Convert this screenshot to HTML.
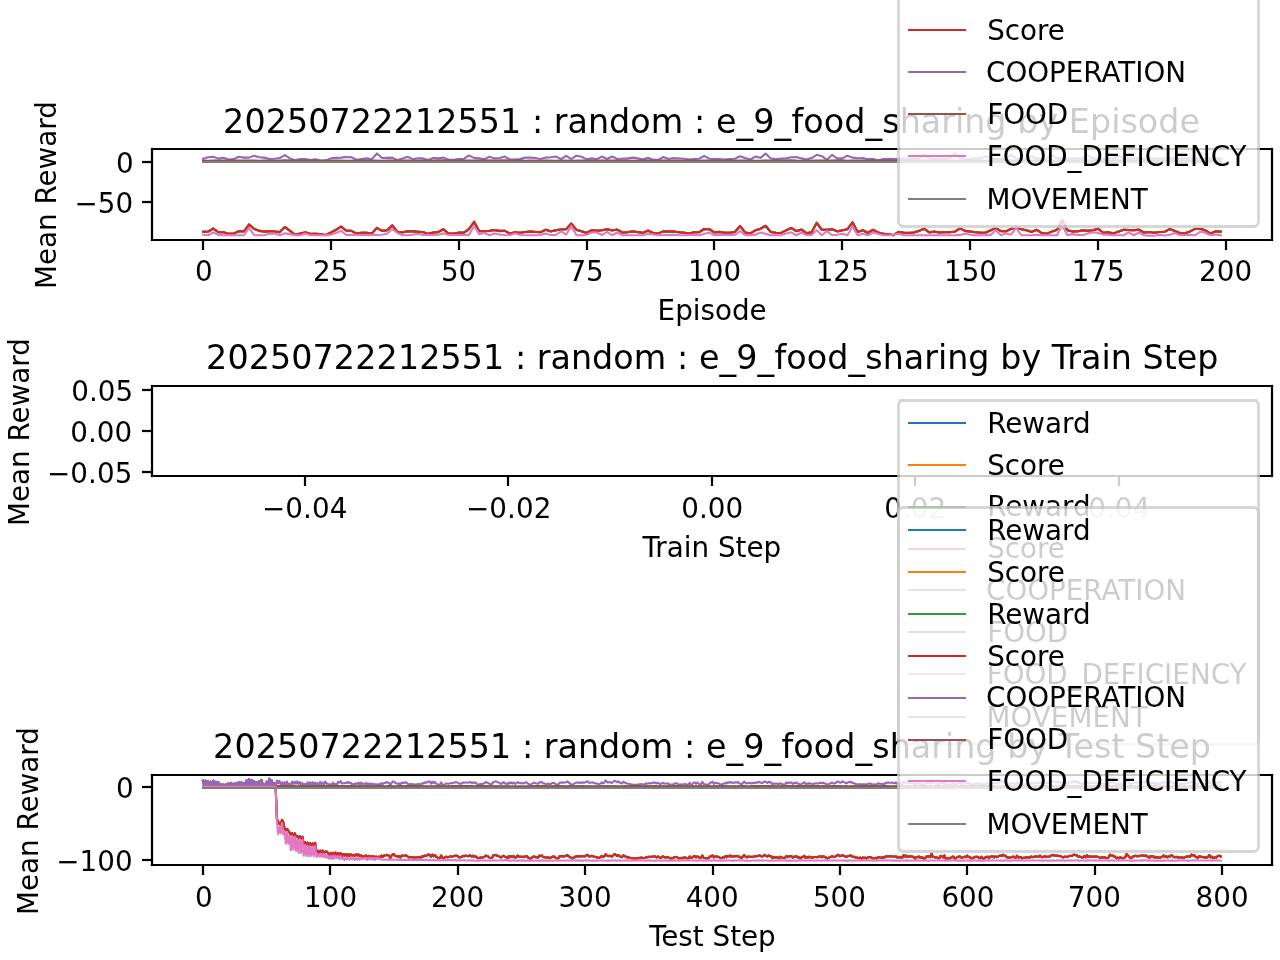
<!DOCTYPE html>
<html><head><meta charset="utf-8"><title>plot</title>
<style>html,body{margin:0;padding:0;background:#fff;width:1280px;height:960px;overflow:hidden}svg{display:block;will-change:transform}</style>
</head><body>
<svg width="1280" height="960" viewBox="0 0 1280 960" version="1.1">
<defs>
<style type="text/css">*{stroke-linejoin: round; stroke-linecap: butt}</style>
</defs>
<g id="figure_1">
<g id="patch_1">
<path d="M 0 960 L 1280 960 L 1280 0 L 0 0 z" style="fill: #ffffff"/>
</g>
<g id="axes_1">
<g id="patch_2">
<path d="M 152 240 L 1272 240 L 1272 149 L 152 149 z" style="fill: #ffffff"/>
</g>
<g id="matplotlib.axis_1">
<g id="xtick_1">
<g id="line2d_1">
<path d="M 203 240 L 203 250" style="stroke: #000000; stroke-width: 2.222222"/>
</g>
<g id="text_1">
<g transform="matrix(1 0 0 1 0.8151 0)"><text x="194.125" y="281.185" style="font-size:27.78px;font-family:'DejaVu Sans',sans-serif">0</text></g>
</g>
</g>
<g id="xtick_2">
<g id="line2d_2">
<path d="M 331 240 L 331 250" style="stroke: #000000; stroke-width: 2.222222"/>
</g>
<g id="text_2">
<text x="313.000 330.625" y="281.185" style="font-size:27.78px;font-family:'DejaVu Sans',sans-serif">25</text>
</g>
</g>
<g id="xtick_3">
<g id="line2d_3">
<path d="M 459 240 L 459 250" style="stroke: #000000; stroke-width: 2.222222"/>
</g>
<g id="text_3">
<text x="440.875 458.500" y="281.185" style="font-size:27.78px;font-family:'DejaVu Sans',sans-serif">50</text>
</g>
</g>
<g id="xtick_4">
<g id="line2d_4">
<path d="M 587 240 L 587 250" style="stroke: #000000; stroke-width: 2.222222"/>
</g>
<g id="text_4">
<g transform="matrix(1 0 0 1 -0.3377 0)"><text x="568.750 586.375" y="281.185" style="font-size:27.78px;font-family:'DejaVu Sans',sans-serif">75</text></g>
</g>
</g>
<g id="xtick_5">
<g id="line2d_5">
<path d="M 714 240 L 714 250" style="stroke: #000000; stroke-width: 2.222222"/>
</g>
<g id="text_5">
<text x="688.000 705.625 723.375" y="281.185" style="font-size:27.78px;font-family:'DejaVu Sans',sans-serif">100</text>
</g>
</g>
<g id="xtick_6">
<g id="line2d_6">
<path d="M 842 240 L 842 250" style="stroke: #000000; stroke-width: 2.222222"/>
</g>
<g id="text_6">
<g transform="matrix(1 0 0 1 -0.3484 0)"><text x="816.000 833.625 851.250" y="281.185" style="font-size:27.78px;font-family:'DejaVu Sans',sans-serif">125</text></g>
</g>
</g>
<g id="xtick_7">
<g id="line2d_7">
<path d="M 970 240 L 970 250" style="stroke: #000000; stroke-width: 2.222222"/>
</g>
<g id="text_7">
<text x="944.000 961.625 979.250" y="281.185" style="font-size:27.78px;font-family:'DejaVu Sans',sans-serif">150</text>
</g>
</g>
<g id="xtick_8">
<g id="line2d_8">
<path d="M 1098 240 L 1098 250" style="stroke: #000000; stroke-width: 2.222222"/>
</g>
<g id="text_8">
<g transform="matrix(1 0 0 1 -0.3553 0)"><text x="1072.000 1089.625 1107.250" y="281.185" style="font-size:27.78px;font-family:'DejaVu Sans',sans-serif">175</text></g>
</g>
</g>
<g id="xtick_9">
<g id="line2d_9">
<path d="M 1226 240 L 1226 250" style="stroke: #000000; stroke-width: 2.222222"/>
</g>
<g id="text_9">
<text x="1199.000 1216.625 1234.375" y="281.185" style="font-size:27.78px;font-family:'DejaVu Sans',sans-serif">200</text>
</g>
</g>
<g id="text_10">
<g transform="matrix(1 0 0 1 0.3011 0)"><text x="657.250 674.875 692.500 700.250 714.750 731.625 749.250" y="320.296" style="font-size:27.78px;font-family:'DejaVu Sans',sans-serif">Episode</text></g>
</g>
</g>
<g id="matplotlib.axis_2">
<g id="ytick_1">
<g id="line2d_10">
<path d="M 152 202 L 142 202" style="stroke: #000000; stroke-width: 2.222222"/>
</g>
<g id="text_11">
<g transform="matrix(1 0 0 1 0.5037 0)"><text x="74.000 97.250 114.875" y="212.878" style="font-size:27.78px;font-family:'DejaVu Sans',sans-serif">−50</text></g>
</g>
</g>
<g id="ytick_2">
<g id="line2d_11">
<path d="M 152 162 L 142 162" style="stroke: #000000; stroke-width: 2.222222"/>
</g>
<g id="text_12">
<g transform="matrix(1 0 0 1 0.8151 0)"><text x="115.125" y="172.769" style="font-size:27.78px;font-family:'DejaVu Sans',sans-serif">0</text></g>
</g>
</g>
<g id="text_13">
<g transform="matrix(1 0 0 1 -0.97 0.5375)"><text x="0.000 24.000 41.000 58.000 75.625 84.500 102.500 119.500 142.250 159.250 170.250" y="0" style="font-size:27.78px;font-family:'DejaVu Sans',sans-serif" transform="translate(56.959 288.435) rotate(-90)">Mean Reward</text></g>
</g>
</g>
<g id="line2d_12">
<path d="M 203.03 231.73 L 208.14 231.54 L 213.26 228.49 L 218.37 232.25 L 223.48 232.21 L 228.6 233.89 L 233.71 233.51 L 238.83 231.2 L 243.94 231.3 L 249.06 224.56 L 254.17 228.77 L 259.28 230.87 L 264.4 231.53 L 269.51 231.21 L 274.63 231.46 L 279.74 232.1 L 284.86 226.91 L 289.97 230.89 L 295.09 234.71 L 300.2 233.49 L 305.31 232.41 L 310.43 234.03 L 315.54 233.76 L 320.66 234.24 L 325.77 235.18 L 330.89 232.62 L 336 229.83 L 341.11 226.66 L 346.23 230.75 L 351.34 230.85 L 356.46 233.46 L 361.57 232.75 L 366.69 232.83 L 371.8 233.54 L 376.91 227.8 L 382.03 230.9 L 387.14 230.23 L 392.26 225.24 L 397.37 231.98 L 402.49 232.4 L 407.6 231.14 L 412.71 231.37 L 422.94 232.14 L 428.06 233.91 L 433.17 232.62 L 438.29 232.2 L 443.4 229.2 L 448.51 233.52 L 453.63 233.7 L 458.74 232.52 L 463.86 232.6 L 468.97 229.13 L 474.09 221.72 L 479.2 231.05 L 484.32 231.38 L 489.43 230.77 L 494.54 230.01 L 499.66 231.11 L 504.77 230.81 L 509.89 233.63 L 515 232.17 L 520.12 232.78 L 525.23 231.96 L 530.34 231.58 L 535.46 232.08 L 540.57 232.19 L 545.69 229.78 L 550.8 231.33 L 561.03 229.39 L 566.14 229.13 L 571.26 223.56 L 576.37 229.67 L 586.6 232.79 L 591.72 230.32 L 596.83 230.73 L 601.94 230.25 L 607.06 229.23 L 612.17 230.46 L 617.29 229.58 L 622.4 232.68 L 627.52 232.2 L 632.63 231.22 L 637.75 232.18 L 642.86 232.87 L 647.97 230.72 L 653.09 233.01 L 658.2 233.37 L 663.32 231.11 L 668.43 231.88 L 673.55 231.49 L 678.66 232.18 L 683.77 232.49 L 688.89 233.53 L 694 232.39 L 699.12 232.24 L 704.23 229 L 709.35 229.25 L 714.46 232.39 L 719.57 231.9 L 724.69 232.67 L 729.8 232.73 L 734.92 231.98 L 740.03 226.12 L 745.15 232.57 L 750.26 233.42 L 755.37 230.34 L 760.49 228.88 L 765.6 225.74 L 770.72 231.88 L 775.83 232.74 L 780.95 233.04 L 786.06 230.38 L 791.17 228.12 L 796.29 231 L 801.4 229.39 L 806.52 233.17 L 811.63 232.37 L 816.75 222.79 L 821.86 229.89 L 826.98 229.8 L 832.09 229.27 L 837.2 231.38 L 842.32 230.15 L 847.43 229.22 L 852.55 222.3 L 857.66 232.01 L 862.78 230.26 L 867.89 233.03 L 873 229.97 L 878.12 232.38 L 883.23 233.9 L 888.35 234.06 L 893.46 235.16 L 898.58 231.76 L 903.69 232.6 L 908.8 232.9 L 913.92 232.52 L 919.03 230.96 L 924.15 228.78 L 929.26 232.35 L 934.38 231.79 L 939.49 232.58 L 944.6 232.29 L 949.72 232.24 L 954.83 231.67 L 959.95 228.62 L 965.06 230.87 L 970.18 231.59 L 980.41 232.64 L 985.52 232.81 L 990.63 230.42 L 995.75 227.83 L 1000.86 231.08 L 1005.98 231.14 L 1011.09 228.69 L 1016.21 227.7 L 1021.32 229.16 L 1026.43 230.25 L 1031.55 231.87 L 1036.66 229.69 L 1041.78 233.02 L 1046.89 233.79 L 1052.01 231.62 L 1057.12 229.79 L 1062.23 220.03 L 1067.35 230.29 L 1072.46 231.47 L 1077.58 231.32 L 1082.69 230.19 L 1087.81 230.81 L 1092.92 230.27 L 1098.03 228.66 L 1103.15 232.78 L 1108.26 232.3 L 1113.38 233.45 L 1123.61 229.76 L 1133.83 230.29 L 1138.95 229.64 L 1144.06 232.61 L 1149.18 232.06 L 1154.29 232.75 L 1159.41 232.03 L 1164.52 231.91 L 1169.64 229.08 L 1174.75 231.01 L 1179.86 233.17 L 1184.98 233.19 L 1190.09 231.4 L 1195.21 228.84 L 1200.32 228.67 L 1205.44 230.54 L 1210.55 233.34 L 1215.66 231.41 L 1220.78 231.56 L 1220.78 231.56" clip-path="url(#pbbe78c1bc1)" style="fill: none; stroke: #1f77b4; stroke-width: 2.083333; stroke-linecap: square"/>
</g>
<g id="line2d_13">
<path d="M 203.03 231.73 L 208.14 231.73 L 213.26 228.67 L 218.37 232.17 L 223.48 232.17 L 228.6 233.81 L 233.71 233.59 L 238.83 231.19 L 243.94 231.41 L 249.06 224.3 L 254.17 229 L 259.28 230.86 L 264.4 231.62 L 269.51 231.19 L 274.63 231.41 L 279.74 232.17 L 284.86 227.03 L 295.09 234.69 L 300.2 233.59 L 305.31 232.28 L 310.43 233.81 L 315.54 233.81 L 320.66 234.14 L 325.77 234.91 L 330.89 232.5 L 336 229.77 L 341.11 226.48 L 346.23 230.53 L 351.34 230.86 L 356.46 233.59 L 361.57 232.72 L 366.69 232.72 L 371.8 233.59 L 376.91 227.91 L 382.03 230.86 L 387.14 230.31 L 392.26 225.39 L 397.37 231.95 L 402.49 232.28 L 407.6 231.19 L 412.71 231.41 L 417.83 231.95 L 422.94 231.95 L 428.06 233.81 L 433.17 232.5 L 438.29 231.95 L 443.4 229.22 L 448.51 233.59 L 453.63 233.59 L 458.74 232.72 L 463.86 232.72 L 468.97 229.22 L 474.09 221.78 L 479.2 231.19 L 484.32 231.19 L 489.43 230.86 L 494.54 230.09 L 499.66 230.86 L 504.77 230.86 L 509.89 233.59 L 515 232.28 L 520.12 232.72 L 525.23 231.95 L 530.34 231.62 L 540.57 232.28 L 545.69 229.77 L 550.8 231.41 L 555.92 230.31 L 561.03 229.55 L 566.14 229.22 L 571.26 223.53 L 576.37 229.77 L 586.6 233.05 L 591.72 230.09 L 596.83 230.86 L 601.94 230.31 L 607.06 229.22 L 612.17 230.31 L 617.29 229.77 L 622.4 232.5 L 627.52 232.28 L 632.63 231.41 L 637.75 231.95 L 642.86 232.83 L 647.97 230.53 L 653.09 233.05 L 658.2 233.59 L 663.32 231.41 L 668.43 231.62 L 673.55 231.41 L 678.66 232.28 L 683.77 232.72 L 688.89 233.59 L 694 232.28 L 699.12 232.28 L 704.23 229 L 709.35 229.22 L 714.46 232.28 L 719.57 231.95 L 724.69 232.72 L 729.8 232.72 L 734.92 231.95 L 740.03 225.94 L 745.15 232.5 L 750.26 233.59 L 755.37 230.31 L 760.49 228.67 L 765.6 225.94 L 770.72 231.95 L 775.83 233.05 L 780.95 233.05 L 786.06 230.31 L 791.17 227.91 L 796.29 231.19 L 801.4 229.77 L 806.52 233.05 L 811.63 232.28 L 816.75 222.87 L 821.86 229.77 L 826.98 229.77 L 832.09 229.22 L 837.2 231.41 L 847.43 229.22 L 852.55 222.44 L 857.66 231.95 L 862.78 230.31 L 867.89 232.72 L 873 229.77 L 878.12 232.5 L 883.23 233.81 L 888.35 234.14 L 893.46 235.23 L 898.58 231.95 L 903.69 232.72 L 908.8 233.05 L 913.92 232.5 L 919.03 230.86 L 924.15 228.67 L 929.26 232.28 L 934.38 231.62 L 939.49 232.5 L 944.6 232.28 L 949.72 232.28 L 954.83 231.62 L 959.95 228.34 L 965.06 230.86 L 975.29 232.28 L 980.41 232.72 L 985.52 232.72 L 990.63 230.31 L 995.75 228.12 L 1000.86 231.19 L 1005.98 231.41 L 1011.09 229 L 1016.21 227.58 L 1021.32 229.22 L 1026.43 230.31 L 1031.55 231.95 L 1036.66 229.77 L 1041.78 233.05 L 1046.89 233.81 L 1052.01 231.41 L 1057.12 229.77 L 1062.23 219.92 L 1067.35 230.31 L 1072.46 231.41 L 1077.58 231.41 L 1082.69 230.31 L 1087.81 230.86 L 1092.92 230.31 L 1098.03 228.67 L 1103.15 232.72 L 1108.26 232.28 L 1113.38 233.37 L 1123.61 229.77 L 1128.72 230.09 L 1133.83 230.09 L 1138.95 229.77 L 1144.06 232.5 L 1149.18 231.95 L 1154.29 232.72 L 1159.41 231.95 L 1164.52 231.95 L 1169.64 229 L 1174.75 230.86 L 1179.86 233.05 L 1184.98 233.37 L 1190.09 231.41 L 1195.21 228.67 L 1200.32 228.67 L 1205.44 230.31 L 1210.55 233.59 L 1215.66 231.19 L 1220.78 231.62 L 1220.78 231.62" clip-path="url(#pbbe78c1bc1)" style="fill: none; stroke: #ff7f0e; stroke-width: 2.083333; stroke-linecap: square"/>
</g>
<g id="line2d_14">
<path d="M 203.03 231.73 L 208.14 231.54 L 213.26 228.49 L 218.37 232.25 L 223.48 232.21 L 228.6 233.89 L 233.71 233.51 L 238.83 231.2 L 243.94 231.3 L 249.06 224.56 L 254.17 228.77 L 259.28 230.87 L 264.4 231.53 L 269.51 231.21 L 274.63 231.46 L 279.74 232.1 L 284.86 226.91 L 289.97 230.89 L 295.09 234.71 L 300.2 233.49 L 305.31 232.41 L 310.43 234.03 L 315.54 233.76 L 320.66 234.24 L 325.77 235.18 L 330.89 232.62 L 336 229.83 L 341.11 226.66 L 346.23 230.75 L 351.34 230.85 L 356.46 233.46 L 361.57 232.75 L 366.69 232.83 L 371.8 233.54 L 376.91 227.8 L 382.03 230.9 L 387.14 230.23 L 392.26 225.24 L 397.37 231.98 L 402.49 232.4 L 407.6 231.14 L 412.71 231.37 L 422.94 232.14 L 428.06 233.91 L 433.17 232.62 L 438.29 232.2 L 443.4 229.2 L 448.51 233.52 L 453.63 233.7 L 458.74 232.52 L 463.86 232.6 L 468.97 229.13 L 474.09 221.72 L 479.2 231.05 L 484.32 231.38 L 489.43 230.77 L 494.54 230.01 L 499.66 231.11 L 504.77 230.81 L 509.89 233.63 L 515 232.17 L 520.12 232.78 L 525.23 231.96 L 530.34 231.58 L 535.46 232.08 L 540.57 232.19 L 545.69 229.78 L 550.8 231.33 L 561.03 229.39 L 566.14 229.13 L 571.26 223.56 L 576.37 229.67 L 586.6 232.79 L 591.72 230.32 L 596.83 230.73 L 601.94 230.25 L 607.06 229.23 L 612.17 230.46 L 617.29 229.58 L 622.4 232.68 L 627.52 232.2 L 632.63 231.22 L 637.75 232.18 L 642.86 232.87 L 647.97 230.72 L 653.09 233.01 L 658.2 233.37 L 663.32 231.11 L 668.43 231.88 L 673.55 231.49 L 678.66 232.18 L 683.77 232.49 L 688.89 233.53 L 694 232.39 L 699.12 232.24 L 704.23 229 L 709.35 229.25 L 714.46 232.39 L 719.57 231.9 L 724.69 232.67 L 729.8 232.73 L 734.92 231.98 L 740.03 226.12 L 745.15 232.57 L 750.26 233.42 L 755.37 230.34 L 760.49 228.88 L 765.6 225.74 L 770.72 231.88 L 775.83 232.74 L 780.95 233.04 L 786.06 230.38 L 791.17 228.12 L 796.29 231 L 801.4 229.39 L 806.52 233.17 L 811.63 232.37 L 816.75 222.79 L 821.86 229.89 L 826.98 229.8 L 832.09 229.27 L 837.2 231.38 L 842.32 230.15 L 847.43 229.22 L 852.55 222.3 L 857.66 232.01 L 862.78 230.26 L 867.89 233.03 L 873 229.97 L 878.12 232.38 L 883.23 233.9 L 888.35 234.06 L 893.46 235.16 L 898.58 231.76 L 903.69 232.6 L 908.8 232.9 L 913.92 232.52 L 919.03 230.96 L 924.15 228.78 L 929.26 232.35 L 934.38 231.79 L 939.49 232.58 L 944.6 232.29 L 949.72 232.24 L 954.83 231.67 L 959.95 228.62 L 965.06 230.87 L 970.18 231.59 L 980.41 232.64 L 985.52 232.81 L 990.63 230.42 L 995.75 227.83 L 1000.86 231.08 L 1005.98 231.14 L 1011.09 228.69 L 1016.21 227.7 L 1021.32 229.16 L 1026.43 230.25 L 1031.55 231.87 L 1036.66 229.69 L 1041.78 233.02 L 1046.89 233.79 L 1052.01 231.62 L 1057.12 229.79 L 1062.23 220.03 L 1067.35 230.29 L 1072.46 231.47 L 1077.58 231.32 L 1082.69 230.19 L 1087.81 230.81 L 1092.92 230.27 L 1098.03 228.66 L 1103.15 232.78 L 1108.26 232.3 L 1113.38 233.45 L 1123.61 229.76 L 1133.83 230.29 L 1138.95 229.64 L 1144.06 232.61 L 1149.18 232.06 L 1154.29 232.75 L 1159.41 232.03 L 1164.52 231.91 L 1169.64 229.08 L 1174.75 231.01 L 1179.86 233.17 L 1184.98 233.19 L 1190.09 231.4 L 1195.21 228.84 L 1200.32 228.67 L 1205.44 230.54 L 1210.55 233.34 L 1215.66 231.41 L 1220.78 231.56 L 1220.78 231.56" clip-path="url(#pbbe78c1bc1)" style="fill: none; stroke: #2ca02c; stroke-width: 2.083333; stroke-linecap: square"/>
</g>
<g id="line2d_15">
<path d="M 203.03 231.73 L 208.14 231.73 L 213.26 228.67 L 218.37 232.17 L 223.48 232.17 L 228.6 233.81 L 233.71 233.59 L 238.83 231.19 L 243.94 231.41 L 249.06 224.3 L 254.17 229 L 259.28 230.86 L 264.4 231.62 L 269.51 231.19 L 274.63 231.41 L 279.74 232.17 L 284.86 227.03 L 295.09 234.69 L 300.2 233.59 L 305.31 232.28 L 310.43 233.81 L 315.54 233.81 L 320.66 234.14 L 325.77 234.91 L 330.89 232.5 L 336 229.77 L 341.11 226.48 L 346.23 230.53 L 351.34 230.86 L 356.46 233.59 L 361.57 232.72 L 366.69 232.72 L 371.8 233.59 L 376.91 227.91 L 382.03 230.86 L 387.14 230.31 L 392.26 225.39 L 397.37 231.95 L 402.49 232.28 L 407.6 231.19 L 412.71 231.41 L 417.83 231.95 L 422.94 231.95 L 428.06 233.81 L 433.17 232.5 L 438.29 231.95 L 443.4 229.22 L 448.51 233.59 L 453.63 233.59 L 458.74 232.72 L 463.86 232.72 L 468.97 229.22 L 474.09 221.78 L 479.2 231.19 L 484.32 231.19 L 489.43 230.86 L 494.54 230.09 L 499.66 230.86 L 504.77 230.86 L 509.89 233.59 L 515 232.28 L 520.12 232.72 L 525.23 231.95 L 530.34 231.62 L 540.57 232.28 L 545.69 229.77 L 550.8 231.41 L 555.92 230.31 L 561.03 229.55 L 566.14 229.22 L 571.26 223.53 L 576.37 229.77 L 586.6 233.05 L 591.72 230.09 L 596.83 230.86 L 601.94 230.31 L 607.06 229.22 L 612.17 230.31 L 617.29 229.77 L 622.4 232.5 L 627.52 232.28 L 632.63 231.41 L 637.75 231.95 L 642.86 232.83 L 647.97 230.53 L 653.09 233.05 L 658.2 233.59 L 663.32 231.41 L 668.43 231.62 L 673.55 231.41 L 678.66 232.28 L 683.77 232.72 L 688.89 233.59 L 694 232.28 L 699.12 232.28 L 704.23 229 L 709.35 229.22 L 714.46 232.28 L 719.57 231.95 L 724.69 232.72 L 729.8 232.72 L 734.92 231.95 L 740.03 225.94 L 745.15 232.5 L 750.26 233.59 L 755.37 230.31 L 760.49 228.67 L 765.6 225.94 L 770.72 231.95 L 775.83 233.05 L 780.95 233.05 L 786.06 230.31 L 791.17 227.91 L 796.29 231.19 L 801.4 229.77 L 806.52 233.05 L 811.63 232.28 L 816.75 222.87 L 821.86 229.77 L 826.98 229.77 L 832.09 229.22 L 837.2 231.41 L 847.43 229.22 L 852.55 222.44 L 857.66 231.95 L 862.78 230.31 L 867.89 232.72 L 873 229.77 L 878.12 232.5 L 883.23 233.81 L 888.35 234.14 L 893.46 235.23 L 898.58 231.95 L 903.69 232.72 L 908.8 233.05 L 913.92 232.5 L 919.03 230.86 L 924.15 228.67 L 929.26 232.28 L 934.38 231.62 L 939.49 232.5 L 944.6 232.28 L 949.72 232.28 L 954.83 231.62 L 959.95 228.34 L 965.06 230.86 L 975.29 232.28 L 980.41 232.72 L 985.52 232.72 L 990.63 230.31 L 995.75 228.12 L 1000.86 231.19 L 1005.98 231.41 L 1011.09 229 L 1016.21 227.58 L 1021.32 229.22 L 1026.43 230.31 L 1031.55 231.95 L 1036.66 229.77 L 1041.78 233.05 L 1046.89 233.81 L 1052.01 231.41 L 1057.12 229.77 L 1062.23 219.92 L 1067.35 230.31 L 1072.46 231.41 L 1077.58 231.41 L 1082.69 230.31 L 1087.81 230.86 L 1092.92 230.31 L 1098.03 228.67 L 1103.15 232.72 L 1108.26 232.28 L 1113.38 233.37 L 1123.61 229.77 L 1128.72 230.09 L 1133.83 230.09 L 1138.95 229.77 L 1144.06 232.5 L 1149.18 231.95 L 1154.29 232.72 L 1159.41 231.95 L 1164.52 231.95 L 1169.64 229 L 1174.75 230.86 L 1179.86 233.05 L 1184.98 233.37 L 1190.09 231.41 L 1195.21 228.67 L 1200.32 228.67 L 1205.44 230.31 L 1210.55 233.59 L 1215.66 231.19 L 1220.78 231.62 L 1220.78 231.62" clip-path="url(#pbbe78c1bc1)" style="fill: none; stroke: #d62728; stroke-width: 2.083333; stroke-linecap: square"/>
</g>
<g id="line2d_16">
<path d="M 203.03 158.72 L 208.14 157.3 L 213.26 156.75 L 218.37 158.61 L 223.48 157.84 L 228.6 159.48 L 233.71 159.16 L 238.83 156.75 L 243.94 157.62 L 249.06 157.62 L 254.17 155.66 L 259.28 157.3 L 264.4 157.62 L 269.51 158.94 L 274.63 158.72 L 279.74 158.06 L 284.86 155.11 L 289.97 158.39 L 295.09 160.25 L 300.2 158.94 L 305.31 158.94 L 310.43 160.03 L 315.54 159.16 L 320.66 160.58 L 325.77 160.58 L 330.89 158.39 L 336 157.84 L 341.11 157.62 L 346.23 156.97 L 351.34 157.3 L 356.46 159.81 L 361.57 158.94 L 366.69 158.39 L 371.8 159.16 L 376.91 153.47 L 382.03 158.06 L 392.26 157.62 L 397.37 160.25 L 402.49 158.39 L 407.6 156.75 L 412.71 159.16 L 417.83 158.39 L 422.94 158.39 L 428.06 160.03 L 433.17 157.84 L 438.29 158.39 L 443.4 157.62 L 448.51 159.48 L 453.63 159.81 L 458.74 158.94 L 463.86 158.94 L 468.97 155.44 L 474.09 157.84 L 479.2 158.39 L 484.32 159.16 L 489.43 156.75 L 494.54 158.39 L 499.66 158.06 L 504.77 156.53 L 509.89 159.48 L 515 159.48 L 520.12 158.94 L 525.23 157.62 L 530.34 157.62 L 535.46 158.06 L 540.57 158.94 L 545.69 157.62 L 550.8 157.3 L 555.92 156.53 L 561.03 159.16 L 566.14 155.87 L 571.26 159.16 L 576.37 155.66 L 581.49 156.75 L 586.6 159.16 L 591.72 158.39 L 596.83 159.16 L 601.94 156.53 L 607.06 158.94 L 612.17 156.53 L 617.29 158.94 L 627.52 158.39 L 632.63 157.62 L 637.75 158.39 L 642.86 159.48 L 647.97 157.84 L 653.09 159.81 L 658.2 159.81 L 663.32 156.97 L 668.43 158.94 L 673.55 158.06 L 683.77 158.72 L 688.89 159.48 L 694 158.94 L 699.12 158.72 L 704.23 155.87 L 709.35 158.72 L 714.46 158.94 L 719.57 158.94 L 724.69 159.48 L 729.8 158.94 L 734.92 158.72 L 740.03 156.2 L 745.15 158.06 L 750.26 159.48 L 755.37 156.53 L 760.49 157.84 L 765.6 153.47 L 770.72 158.39 L 775.83 159.16 L 786.06 158.39 L 791.17 157.3 L 796.29 156.97 L 801.4 158.39 L 806.52 159.48 L 811.63 158.06 L 816.75 154.78 L 821.86 156.2 L 826.98 159.81 L 832.09 154.78 L 837.2 158.39 L 842.32 158.39 L 847.43 155.66 L 852.55 157.62 L 857.66 158.39 L 862.78 158.06 L 867.89 159.16 L 873 158.94 L 878.12 160.58 L 883.23 158.94 L 888.35 158.72 L 893.46 158.94 L 903.69 158.39 L 908.8 158.94 L 919.03 158.39 L 924.15 154.56 L 929.26 158.39 L 934.38 158.72 L 939.49 158.39 L 944.6 158.94 L 949.72 158.39 L 954.83 152.92 L 959.95 157.84 L 965.06 158.72 L 970.18 158.94 L 975.29 158.39 L 980.41 158.39 L 985.52 156.2 L 990.63 158.39 L 995.75 158.94 L 1005.98 158.39 L 1011.09 154.56 L 1016.21 158.39 L 1021.32 158.72 L 1026.43 158.39 L 1031.55 156.2 L 1036.66 158.39 L 1041.78 158.72 L 1046.89 158.39 L 1052.01 155.44 L 1057.12 158.39 L 1062.23 158.39 L 1067.35 158.72 L 1072.46 158.39 L 1082.69 158.39 L 1087.81 155.44 L 1092.92 158.39 L 1098.03 158.39 L 1103.15 158.72 L 1108.26 158.39 L 1113.38 158.39 L 1118.49 155.66 L 1123.61 158.39 L 1128.72 158.72 L 1133.83 158.39 L 1138.95 158.39 L 1144.06 158.72 L 1149.18 158.39 L 1154.29 158.39 L 1159.41 158.72 L 1164.52 158.39 L 1169.64 157.84 L 1174.75 158.39 L 1179.86 158.72 L 1184.98 158.39 L 1200.32 158.39 L 1205.44 158.94 L 1210.55 158.39 L 1215.66 158.72 L 1220.78 158.39 L 1220.78 158.39" clip-path="url(#pbbe78c1bc1)" style="fill: none; stroke: #9467bd; stroke-width: 2.083333; stroke-linecap: square"/>
</g>
<g id="line2d_17">
<path d="M 203.03 160.5 L 208.14 160.74 L 213.26 160.53 L 218.37 160.45 L 228.6 160.53 L 233.71 160.45 L 238.83 160.55 L 254.17 160.49 L 259.28 160.68 L 264.4 160.47 L 274.63 160.7 L 284.86 160.36 L 295.09 160.63 L 300.2 160.48 L 305.31 160.62 L 315.54 160.56 L 320.66 160.84 L 325.77 160.54 L 330.89 160.69 L 336 160.65 L 346.23 160.75 L 351.34 160.68 L 356.46 160.47 L 361.57 160.37 L 366.69 160.57 L 371.8 160.43 L 382.03 160.8 L 387.14 160.55 L 392.26 160.51 L 397.37 160.62 L 407.6 160.5 L 417.83 160.74 L 422.94 160.59 L 433.17 160.61 L 443.4 160.36 L 448.51 160.62 L 458.74 160.45 L 479.2 160.48 L 484.32 160.32 L 494.54 160.64 L 504.77 160.41 L 515 160.63 L 520.12 160.38 L 525.23 160.72 L 530.34 160.51 L 540.57 160.71 L 545.69 160.42 L 555.92 160.71 L 561.03 160.49 L 571.26 160.8 L 581.49 160.53 L 591.72 160.55 L 607.06 160.59 L 612.17 160.42 L 617.29 160.55 L 627.52 160.5 L 632.63 160.69 L 637.75 160.65 L 642.86 160.38 L 653.09 160.6 L 658.2 160.53 L 663.32 160.62 L 668.43 160.53 L 673.55 160.65 L 678.66 160.53 L 683.77 160.76 L 688.89 160.41 L 699.12 160.76 L 704.23 160.59 L 719.57 160.7 L 724.69 160.52 L 729.8 160.13 L 734.92 160.72 L 740.03 160.53 L 745.15 160.6 L 750.26 160.54 L 755.37 160.78 L 760.49 160.7 L 765.6 160.51 L 770.72 160.57 L 775.83 160.37 L 780.95 160.65 L 786.06 160.55 L 791.17 160.22 L 796.29 160.66 L 801.4 160.67 L 816.75 160.46 L 826.98 160.66 L 832.09 160.54 L 837.2 160.25 L 842.32 160.41 L 847.43 160.9 L 852.55 160.58 L 857.66 160.67 L 862.78 160.49 L 867.89 160.59 L 873 160.33 L 878.12 160.45 L 908.8 160.5 L 913.92 160.61 L 919.03 160.41 L 929.26 160.58 L 934.38 160.66 L 944.6 160.64 L 949.72 160.9 L 954.83 160.44 L 965.06 160.59 L 970.18 160.44 L 980.41 160.52 L 985.52 160.86 L 990.63 160.59 L 1005.98 160.34 L 1011.09 160.39 L 1016.21 160.71 L 1021.32 160.83 L 1026.43 160.5 L 1031.55 160.56 L 1036.66 160.45 L 1041.78 160.58 L 1046.89 160.54 L 1052.01 160.75 L 1057.12 160.51 L 1062.23 160.62 L 1072.46 160.51 L 1077.58 160.58 L 1092.92 160.47 L 1108.26 160.64 L 1113.38 160.36 L 1118.49 160.58 L 1123.61 160.45 L 1138.95 160.66 L 1149.18 160.54 L 1154.29 160.49 L 1159.41 160.72 L 1174.75 160.37 L 1179.86 160.85 L 1184.98 160.51 L 1190.09 160.63 L 1195.21 160.51 L 1200.32 160.63 L 1210.55 160.38 L 1215.66 160.52 L 1220.78 160.51 L 1220.78 160.51" clip-path="url(#pbbe78c1bc1)" style="fill: none; stroke: #8c564b; stroke-width: 2.083333; stroke-linecap: square"/>
</g>
<g id="line2d_18">
<path d="M 203.03 234.69 L 208.14 235.23 L 213.26 232.5 L 218.37 234.91 L 223.48 235.23 L 243.94 235.23 L 249.06 227.91 L 254.17 235.23 L 264.4 235.23 L 269.51 233.59 L 274.63 233.59 L 279.74 235.23 L 284.86 233.37 L 289.97 234.14 L 295.09 235.23 L 300.2 235.23 L 305.31 233.59 L 310.43 235.23 L 325.77 235.23 L 330.89 234.69 L 336 233.05 L 341.11 230.86 L 346.23 235.02 L 376.91 235.02 L 382.03 234.69 L 387.14 233.81 L 392.26 229 L 397.37 233.05 L 402.49 235.23 L 407.6 235.23 L 412.71 234.69 L 417.83 233.81 L 422.94 235.02 L 433.17 235.02 L 438.29 234.69 L 443.4 233.37 L 448.51 235.02 L 468.97 235.02 L 474.09 225.94 L 479.2 234.14 L 484.32 233.05 L 489.43 235.23 L 494.54 233.59 L 499.66 234.47 L 504.77 235.02 L 509.89 235.23 L 515 233.37 L 520.12 235.02 L 525.23 235.23 L 535.46 235.23 L 540.57 235.02 L 545.69 233.59 L 550.8 235.02 L 555.92 235.02 L 561.03 231.41 L 566.14 234.69 L 571.26 225.94 L 576.37 235.23 L 581.49 235.23 L 586.6 234.69 L 591.72 232.5 L 596.83 232.5 L 601.94 235.02 L 607.06 231.95 L 612.17 235.23 L 617.29 232.5 L 622.4 235.23 L 642.86 235.23 L 647.97 233.81 L 658.2 235.23 L 673.55 234.69 L 678.66 235.23 L 683.77 235.23 L 694 234.69 L 699.12 235.23 L 709.35 232.5 L 714.46 235.23 L 719.57 234.69 L 724.69 235.02 L 734.92 235.02 L 740.03 231.19 L 745.15 234.91 L 750.26 235.23 L 755.37 234.69 L 760.49 232.5 L 770.72 235.23 L 780.95 235.23 L 786.06 233.59 L 791.17 232.28 L 796.29 235.23 L 801.4 232.72 L 806.52 235.02 L 811.63 235.02 L 816.75 230.31 L 821.86 235.23 L 826.98 231.19 L 832.09 235.23 L 837.2 234.69 L 842.32 233.81 L 847.43 235.23 L 852.55 226.48 L 857.66 235.23 L 862.78 233.81 L 867.89 235.23 L 873 232.5 L 883.23 235.23 L 888.35 235.23 L 893.46 234.69 L 898.58 233.81 L 903.69 235.23 L 954.83 235.23 L 959.95 234.91 L 965.06 233.59 L 970.18 234.69 L 975.29 235.23 L 985.52 235.23 L 990.63 234.91 L 995.75 230.31 L 1000.86 235.23 L 1005.98 233.59 L 1011.09 234.69 L 1016.21 227.91 L 1021.32 235.23 L 1031.55 235.23 L 1036.66 234.69 L 1041.78 235.23 L 1057.12 235.23 L 1062.23 225.39 L 1067.35 235.23 L 1072.46 234.14 L 1077.58 234.91 L 1082.69 235.23 L 1087.81 233.37 L 1092.92 232.28 L 1098.03 233.05 L 1103.15 234.47 L 1113.38 235.23 L 1123.61 235.23 L 1128.72 232.28 L 1133.83 235.23 L 1138.95 232.5 L 1144.06 235.23 L 1149.18 235.78 L 1154.29 235.78 L 1159.41 234.69 L 1164.52 235.56 L 1169.64 234.69 L 1174.75 233.05 L 1179.86 235.23 L 1184.98 235.23 L 1190.09 234.69 L 1195.21 235.23 L 1200.32 231.62 L 1205.44 233.05 L 1210.55 235.23 L 1215.66 234.47 L 1220.78 235.23 L 1220.78 235.23" clip-path="url(#pbbe78c1bc1)" style="fill: none; stroke: #e377c2; stroke-width: 2.083333; stroke-linecap: square"/>
</g>
<g id="line2d_19">
<path d="M 203 162 L 1221 162 L 1221 162" clip-path="url(#pbbe78c1bc1)" style="fill: none; stroke: #7f7f7f; stroke-width: 2.083333; stroke-linecap: square"/>
</g>
<g id="patch_3">
<path d="M 152 240 L 152 149" style="fill: none; stroke: #000000; stroke-width: 2.222222; stroke-linejoin: miter; stroke-linecap: square"/>
</g>
<g id="patch_4">
<path d="M 1272 240 L 1272 149" style="fill: none; stroke: #000000; stroke-width: 2.222222; stroke-linejoin: miter; stroke-linecap: square"/>
</g>
<g id="patch_5">
<path d="M 152 240 L 1272 240" style="fill: none; stroke: #000000; stroke-width: 2.222222; stroke-linejoin: miter; stroke-linecap: square"/>
</g>
<g id="patch_6">
<path d="M 152 149 L 1272 149" style="fill: none; stroke: #000000; stroke-width: 2.222222; stroke-linejoin: miter; stroke-linecap: square"/>
</g>
<g id="text_14">
<text x="223.000 244.375 265.625 287.000 308.250 329.500 350.750 372.125 393.500 414.875 436.125 457.500 478.750 500.000 521.250 531.875 543.125 553.750 567.500 587.875 609.000 630.250 650.750 683.375 694.000 705.250 715.875 736.375 753.250 774.500 791.375 803.125 823.625 844.125 865.375 882.250 899.625 920.750 941.125 954.875 964.125 985.250 1006.500 1017.125 1038.375 1058.125 1068.750 1089.875 1111.125 1120.375 1137.750 1158.250 1179.500" y="132.589" style="font-size:33.33px;font-family:'DejaVu Sans',sans-serif">20250722212551 : random : e_9_food_sharing by Episode</text>
</g>
<g id="legend_1">
<g id="patch_7">
<path d="M 903.5 226.5 L 1252.5 226.5 L 1254.5 226.5 L 1256.5 225.5 L 1257.5 224.5 L 1258.5 222.5 L 1258.5 220.5 L 1258.5 -112.5 L 1258.5 -113.5 L 1257.5 -115.5 L 1256.5 -117.5 L 1254.5 -118.5 L 1252.5 -118.5 L 903.5 -118.5 L 902.5 -118.5 L 900.5 -117.5 L 899.5 -115.5 L 898.5 -113.5 L 898.5 -112.5 L 898.5 220.5 L 898.5 222.5 L 899.5 224.5 L 900.5 225.5 L 902.5 226.5 L 903.5 226.5 z" style="fill: #ffffff; opacity: 0.8; stroke: #cccccc; stroke-width: 2.777778; stroke-linejoin: miter"/>
</g>
<g id="line2d_20">
<path style="fill: none; stroke: #1f77b4; stroke-width: 2.083333; stroke-linecap: square"/>
</g>
<g id="text_15">
<text x="987.250 1005.250 1022.250 1045.000 1062.000 1073.000" y="-85.482" style="font-size:27.78px;font-family:'DejaVu Sans',sans-serif">Reward</text>
</g>
<g id="line2d_21">
<path style="fill: none; stroke: #ff7f0e; stroke-width: 2.083333; stroke-linecap: square"/>
</g>
<g id="text_16">
<text x="987.125 1004.750 1020.000 1036.875 1047.750" y="-43.593" style="font-size:27.78px;font-family:'DejaVu Sans',sans-serif">Score</text>
</g>
<g id="line2d_22">
<path style="fill: none; stroke: #2ca02c; stroke-width: 2.083333; stroke-linecap: square"/>
</g>
<g id="text_17">
<text x="987.250 1005.250 1022.250 1045.000 1062.000 1073.000" y="-1.704" style="font-size:27.78px;font-family:'DejaVu Sans',sans-serif">Reward</text>
</g>
<g id="line2d_23">
<path d="M 909 30 L 937 30 L 965 30" style="fill: none; stroke: #d62728; stroke-width: 2.083333; stroke-linecap: square"/>
</g>
<g id="text_18">
<text x="987.125 1004.750 1020.000 1036.875 1047.750" y="40.185" style="font-size:27.78px;font-family:'DejaVu Sans',sans-serif">Score</text>
</g>
<g id="line2d_24">
<path d="M 909 72 L 937 72 L 965 72" style="fill: none; stroke: #9467bd; stroke-width: 2.083333; stroke-linecap: square"/>
</g>
<g id="text_19">
<g transform="matrix(1 0 0 1 -0.4102 0)"><text x="986.500 1005.875 1027.625 1049.375 1066.125 1083.750 1101.875 1118.750 1135.625 1143.875 1165.625" y="82.073" style="font-size:27.78px;font-family:'DejaVu Sans',sans-serif">COOPERATION</text></g>
</g>
<g id="line2d_25">
<path d="M 909 114 L 937 114 L 965 114" style="fill: none; stroke: #8c564b; stroke-width: 2.083333; stroke-linecap: square"/>
</g>
<g id="text_20">
<text x="987.250 1003.250 1025.000 1046.750" y="123.962" style="font-size:27.78px;font-family:'DejaVu Sans',sans-serif">FOOD</text>
</g>
<g id="line2d_26">
<path d="M 909 156 L 937 156 L 965 156" style="fill: none; stroke: #e377c2; stroke-width: 2.083333; stroke-linecap: square"/>
</g>
<g id="text_21">
<g transform="matrix(1 0 0 1 -0.5126 0)"><text x="987.250 1003.250 1025.000 1046.750 1068.125 1082.000 1103.375 1121.000 1137.000 1145.250 1164.625 1172.875 1190.500 1211.250 1230.125" y="165.851" style="font-size:27.78px;font-family:'DejaVu Sans',sans-serif">FOOD_DEFICIENCY</text></g>
</g>
<g id="line2d_27">
<path d="M 909 199 L 937 199 L 965 199" style="fill: none; stroke: #7f7f7f; stroke-width: 2.083333; stroke-linecap: square"/>
</g>
<g id="text_22">
<g transform="matrix(1 0 0 1 -0.6258 0)"><text x="987.250 1011.250 1032.500 1051.500 1069.125 1093.125 1110.750 1131.500" y="208.740" style="font-size:27.78px;font-family:'DejaVu Sans',sans-serif">MOVEMENT</text></g>
</g>
</g>
</g>
<g id="axes_2">
<g id="patch_8">
<path d="M 152 476 L 1272 476 L 1272 386 L 152 386 z" style="fill: #ffffff"/>
</g>
<g id="matplotlib.axis_3">
<g id="xtick_10">
<g id="line2d_28">
<path d="M 305 476 L 305 486" style="stroke: #000000; stroke-width: 2.222222"/>
</g>
<g id="text_23">
<text x="262.000 285.250 303.000 311.875 329.625" y="517.559" style="font-size:27.78px;font-family:'DejaVu Sans',sans-serif">−0.04</text>
</g>
</g>
<g id="xtick_11">
<g id="line2d_29">
<path d="M 508 476 L 508 486" style="stroke: #000000; stroke-width: 2.222222"/>
</g>
<g id="text_24">
<text x="466.000 489.250 507.000 515.875 533.625" y="517.559" style="font-size:27.78px;font-family:'DejaVu Sans',sans-serif">−0.02</text>
</g>
</g>
<g id="xtick_12">
<g id="line2d_30">
<path d="M 712 476 L 712 486" style="stroke: #000000; stroke-width: 2.222222"/>
</g>
<g id="text_25">
<text x="681.125 698.875 707.750 725.500" y="517.559" style="font-size:27.78px;font-family:'DejaVu Sans',sans-serif">0.00</text>
</g>
</g>
<g id="xtick_13">
<g id="line2d_31">
<path d="M 915 476 L 915 486" style="stroke: #000000; stroke-width: 2.222222"/>
</g>
<g id="text_26">
<text x="884.125 901.875 910.750 928.500" y="517.559" style="font-size:27.78px;font-family:'DejaVu Sans',sans-serif">0.02</text>
</g>
</g>
<g id="xtick_14">
<g id="line2d_32">
<path d="M 1119 476 L 1119 486" style="stroke: #000000; stroke-width: 2.222222"/>
</g>
<g id="text_27">
<text x="1088.125 1105.875 1114.750 1132.500" y="517.559" style="font-size:27.78px;font-family:'DejaVu Sans',sans-serif">0.04</text>
</g>
</g>
<g id="text_28">
<g transform="matrix(1 0 0 1 0.2991 0)"><text x="642.125 654.875 666.375 683.375 691.125 708.750 717.625 735.250 746.125 763.125" y="556.670" style="font-size:27.78px;font-family:'DejaVu Sans',sans-serif">Train Step</text></g>
</g>
</g>
<g id="matplotlib.axis_4">
<g id="ytick_3">
<g id="line2d_33">
<path d="M 152 472 L 142 472" style="stroke: #000000; stroke-width: 2.222222"/>
</g>
<g id="text_29">
<text x="47.000 70.250 88.000 96.875 114.625" y="483.002" style="font-size:27.78px;font-family:'DejaVu Sans',sans-serif">−0.05</text>
</g>
</g>
<g id="ytick_4">
<g id="line2d_34">
<path d="M 152 431 L 142 431" style="stroke: #000000; stroke-width: 2.222222"/>
</g>
<g id="text_30">
<text x="70.125 87.875 96.750 114.500" y="441.873" style="font-size:27.78px;font-family:'DejaVu Sans',sans-serif">0.00</text>
</g>
</g>
<g id="ytick_5">
<g id="line2d_35">
<path d="M 152 390 L 142 390" style="stroke: #000000; stroke-width: 2.222222"/>
</g>
<g id="text_31">
<text x="71.125 88.875 97.750 115.500" y="400.743" style="font-size:27.78px;font-family:'DejaVu Sans',sans-serif">0.05</text>
</g>
</g>
<g id="text_32">
<g transform="matrix(1 0 0 1 -1.344 1.157)"><text x="0.000 24.000 41.000 58.000 75.625 84.500 102.500 119.500 142.250 159.250 170.250" y="0" style="font-size:27.78px;font-family:'DejaVu Sans',sans-serif" transform="translate(30.334 524.810) rotate(-90)">Mean Reward</text></g>
</g>
</g>
<g id="line2d_36"/>
<g id="line2d_37"/>
<g id="line2d_38"/>
<g id="line2d_39"/>
<g id="line2d_40"/>
<g id="line2d_41"/>
<g id="line2d_42"/>
<g id="line2d_43"/>
<g id="patch_9">
<path d="M 152 476 L 152 386" style="fill: none; stroke: #000000; stroke-width: 2.222222; stroke-linejoin: miter; stroke-linecap: square"/>
</g>
<g id="patch_10">
<path d="M 1272 476 L 1272 386" style="fill: none; stroke: #000000; stroke-width: 2.222222; stroke-linejoin: miter; stroke-linecap: square"/>
</g>
<g id="patch_11">
<path d="M 152 476 L 1272 476" style="fill: none; stroke: #000000; stroke-width: 2.222222; stroke-linejoin: miter; stroke-linecap: square"/>
</g>
<g id="patch_12">
<path d="M 152 386 L 1272 386" style="fill: none; stroke: #000000; stroke-width: 2.222222; stroke-linejoin: miter; stroke-linecap: square"/>
</g>
<g id="text_33">
<text x="206.000 227.375 248.625 270.000 291.250 312.500 333.750 355.125 376.500 397.875 419.125 440.500 461.750 483.000 504.250 514.875 526.125 536.750 550.500 570.875 592.000 613.250 633.750 666.375 677.000 688.250 698.875 719.375 736.250 757.500 774.375 786.125 806.625 827.125 848.375 865.250 882.625 903.750 924.125 937.875 947.125 968.250 989.500 1000.125 1021.375 1041.125 1051.750 1067.250 1081.000 1101.375 1110.625 1131.750 1142.375 1163.625 1176.625 1197.125" y="368.964" style="font-size:33.33px;font-family:'DejaVu Sans',sans-serif">20250722212551 : random : e_9_food_sharing by Train Step</text>
</g>
<g id="legend_2">
<g id="patch_13">
<path d="M 903.5 744.5 L 1252.5 744.5 L 1254.5 744.5 L 1256.5 743.5 L 1257.5 742.5 L 1258.5 740.5 L 1258.5 738.5 L 1258.5 405.5 L 1258.5 404.5 L 1257.5 402.5 L 1256.5 400.5 L 1254.5 400.5 L 1252.5 400.5 L 903.5 400.5 L 902.5 400.5 L 900.5 400.5 L 899.5 402.5 L 898.5 404.5 L 898.5 405.5 L 898.5 738.5 L 898.5 740.5 L 899.5 742.5 L 900.5 743.5 L 902.5 744.5 L 903.5 744.5 z" style="fill: #ffffff; opacity: 0.8; stroke: #cccccc; stroke-width: 2.777778; stroke-linejoin: miter"/>
</g>
<g id="line2d_44">
<path d="M 909 423 L 937 423 L 965 423" style="fill: none; stroke: #1f77b4; stroke-width: 2.083333; stroke-linecap: square"/>
</g>
<g id="text_34">
<text x="987.250 1005.250 1022.250 1045.000 1062.000 1073.000" y="432.630" style="font-size:27.78px;font-family:'DejaVu Sans',sans-serif">Reward</text>
</g>
<g id="line2d_45">
<path d="M 909 465 L 937 465 L 965 465" style="fill: none; stroke: #ff7f0e; stroke-width: 2.083333; stroke-linecap: square"/>
</g>
<g id="text_35">
<text x="987.125 1004.750 1020.000 1036.875 1047.750" y="474.519" style="font-size:27.78px;font-family:'DejaVu Sans',sans-serif">Score</text>
</g>
<g id="line2d_46">
<path d="M 909 507 L 937 507 L 965 507" style="fill: none; stroke: #2ca02c; stroke-width: 2.083333; stroke-linecap: square"/>
</g>
<g id="text_36">
<text x="987.250 1005.250 1022.250 1045.000 1062.000 1073.000" y="516.408" style="font-size:27.78px;font-family:'DejaVu Sans',sans-serif">Reward</text>
</g>
<g id="line2d_47">
<path d="M 909 549 L 937 549 L 965 549" style="fill: none; stroke: #d62728; stroke-width: 2.083333; stroke-linecap: square"/>
</g>
<g id="text_37">
<text x="987.125 1004.750 1020.000 1036.875 1047.750" y="558.297" style="font-size:27.78px;font-family:'DejaVu Sans',sans-serif">Score</text>
</g>
<g id="line2d_48">
<path d="M 909 590 L 937 590 L 965 590" style="fill: none; stroke: #9467bd; stroke-width: 2.083333; stroke-linecap: square"/>
</g>
<g id="text_38">
<g transform="matrix(1 0 0 1 -0.4102 0)"><text x="986.500 1005.875 1027.625 1049.375 1066.125 1083.750 1101.875 1118.750 1135.625 1143.875 1165.625" y="600.186" style="font-size:27.78px;font-family:'DejaVu Sans',sans-serif">COOPERATION</text></g>
</g>
<g id="line2d_49">
<path d="M 909 632 L 937 632 L 965 632" style="fill: none; stroke: #8c564b; stroke-width: 2.083333; stroke-linecap: square"/>
</g>
<g id="text_39">
<text x="987.250 1003.250 1025.000 1046.750" y="642.075" style="font-size:27.78px;font-family:'DejaVu Sans',sans-serif">FOOD</text>
</g>
<g id="line2d_50">
<path d="M 909 674 L 937 674 L 965 674" style="fill: none; stroke: #e377c2; stroke-width: 2.083333; stroke-linecap: square"/>
</g>
<g id="text_40">
<g transform="matrix(1 0 0 1 -0.5126 0)"><text x="987.250 1003.250 1025.000 1046.750 1068.125 1082.000 1103.375 1121.000 1137.000 1145.250 1164.625 1172.875 1190.500 1211.250 1230.125" y="683.964" style="font-size:27.78px;font-family:'DejaVu Sans',sans-serif">FOOD_DEFICIENCY</text></g>
</g>
<g id="line2d_51">
<path d="M 909 717 L 937 717 L 965 717" style="fill: none; stroke: #7f7f7f; stroke-width: 2.083333; stroke-linecap: square"/>
</g>
<g id="text_41">
<g transform="matrix(1 0 0 1 -0.6258 0)"><text x="987.250 1011.250 1032.500 1051.500 1069.125 1093.125 1110.750 1131.500" y="726.853" style="font-size:27.78px;font-family:'DejaVu Sans',sans-serif">MOVEMENT</text></g>
</g>
</g>
</g>
<g id="axes_3">
<g id="patch_14">
<path d="M 152 865 L 1272 865 L 1272 775 L 152 775 z" style="fill: #ffffff"/>
</g>
<g id="matplotlib.axis_5">
<g id="xtick_15">
<g id="line2d_52">
<path d="M 203 865 L 203 875" style="stroke: #000000; stroke-width: 2.222222"/>
</g>
<g id="text_42">
<g transform="matrix(1 0 0 1 0.8151 0)"><text x="194.125" y="906.555" style="font-size:27.78px;font-family:'DejaVu Sans',sans-serif">0</text></g>
</g>
</g>
<g id="xtick_16">
<g id="line2d_53">
<path d="M 330 865 L 330 875" style="stroke: #000000; stroke-width: 2.222222"/>
</g>
<g id="text_43">
<text x="304.000 321.625 339.375" y="906.555" style="font-size:27.78px;font-family:'DejaVu Sans',sans-serif">100</text>
</g>
</g>
<g id="xtick_17">
<g id="line2d_54">
<path d="M 458 865 L 458 875" style="stroke: #000000; stroke-width: 2.222222"/>
</g>
<g id="text_44">
<text x="431.000 448.625 466.375" y="906.555" style="font-size:27.78px;font-family:'DejaVu Sans',sans-serif">200</text>
</g>
</g>
<g id="xtick_18">
<g id="line2d_55">
<path d="M 585 865 L 585 875" style="stroke: #000000; stroke-width: 2.222222"/>
</g>
<g id="text_45">
<g transform="matrix(1 0 0 1 -0.3463 0)"><text x="558.875 576.625 594.375" y="906.555" style="font-size:27.78px;font-family:'DejaVu Sans',sans-serif">300</text></g>
</g>
</g>
<g id="xtick_19">
<g id="line2d_56">
<path d="M 713 865 L 713 875" style="stroke: #000000; stroke-width: 2.222222"/>
</g>
<g id="text_46">
<text x="685.625 703.250 721.000" y="906.555" style="font-size:27.78px;font-family:'DejaVu Sans',sans-serif">400</text>
</g>
</g>
<g id="xtick_20">
<g id="line2d_57">
<path d="M 840 865 L 840 875" style="stroke: #000000; stroke-width: 2.222222"/>
</g>
<g id="text_47">
<text x="812.875 830.500 848.250" y="906.555" style="font-size:27.78px;font-family:'DejaVu Sans',sans-serif">500</text>
</g>
</g>
<g id="xtick_21">
<g id="line2d_58">
<path d="M 967 865 L 967 875" style="stroke: #000000; stroke-width: 2.222222"/>
</g>
<g id="text_48">
<g transform="matrix(1 0 0 1 0.2965 0)"><text x="941.125 958.750 976.500" y="906.555" style="font-size:27.78px;font-family:'DejaVu Sans',sans-serif">600</text></g>
</g>
</g>
<g id="xtick_22">
<g id="line2d_59">
<path d="M 1095 865 L 1095 875" style="stroke: #000000; stroke-width: 2.222222"/>
</g>
<g id="text_49">
<text x="1067.750 1085.375 1103.125" y="906.555" style="font-size:27.78px;font-family:'DejaVu Sans',sans-serif">700</text>
</g>
</g>
<g id="xtick_23">
<g id="line2d_60">
<path d="M 1222 865 L 1222 875" style="stroke: #000000; stroke-width: 2.222222"/>
</g>
<g id="text_50">
<g transform="matrix(1 0 0 1 0.3882 0)"><text x="1195.125 1212.750 1230.500" y="906.555" style="font-size:27.78px;font-family:'DejaVu Sans',sans-serif">800</text></g>
</g>
</g>
<g id="text_51">
<text x="649.125 661.250 678.250 692.750 703.625 712.500 730.125 741.000 758.000" y="945.666" style="font-size:27.78px;font-family:'DejaVu Sans',sans-serif">Test Step</text>
</g>
</g>
<g id="matplotlib.axis_6">
<g id="ytick_6">
<g id="line2d_61">
<path d="M 152 860 L 142 860" style="stroke: #000000; stroke-width: 2.222222"/>
</g>
<g id="text_52">
<g transform="matrix(1 0 0 1 0.3149 0)"><text x="56.000 79.250 96.875 114.625" y="870.788" style="font-size:27.78px;font-family:'DejaVu Sans',sans-serif">−100</text></g>
</g>
</g>
<g id="ytick_7">
<g id="line2d_62">
<path d="M 152 787 L 142 787" style="stroke: #000000; stroke-width: 2.222222"/>
</g>
<g id="text_53">
<g transform="matrix(1 0 0 1 0.8151 0)"><text x="115.125" y="797.875" style="font-size:27.78px;font-family:'DejaVu Sans',sans-serif">0</text></g>
</g>
</g>
<g id="text_54">
<g transform="matrix(1 0 0 1 -1.219 1.176)"><text x="0.000 24.000 41.000 58.000 75.625 84.500 102.500 119.500 142.250 159.250 170.250" y="0" style="font-size:27.78px;font-family:'DejaVu Sans',sans-serif" transform="translate(39.209 913.806) rotate(-90)">Mean Reward</text></g>
</g>
</g>
<g id="line2d_63">
<path d="M 203.03 780.88 L 204.3 786.13 L 205.57 780.69 L 206.85 786.2 L 208.12 781.15 L 209.4 786.09 L 210.67 781.8 L 211.94 786.04 L 213.22 780.78 L 214.49 785.83 L 215.76 781.97 L 217.04 786.27 L 218.31 782.35 L 219.59 786.15 L 220.86 784.4 L 222.13 786.2 L 223.41 784.48 L 224.68 786.19 L 225.96 784.44 L 227.23 786.51 L 228.5 783.57 L 229.78 786.22 L 231.05 783.19 L 232.32 786.43 L 233.6 783.75 L 234.87 786.24 L 236.15 783.33 L 237.42 786.21 L 238.69 782.21 L 239.97 786.02 L 241.24 782.24 L 242.51 786.52 L 243.79 783.23 L 245.06 786.47 L 246.34 780.74 L 247.61 786.09 L 248.88 779.24 L 250.16 786.19 L 251.43 780.09 L 252.7 786.06 L 253.98 781.48 L 255.25 786.09 L 256.53 781.96 L 257.8 786.15 L 259.07 781.52 L 260.35 786.07 L 261.62 779.91 L 262.89 785.95 L 264.17 784.74 L 265.44 786.01 L 266.72 782 L 267.99 786.4 L 269.26 778.8 L 270.54 786.12 L 271.81 780.61 L 273.09 785.99 L 274.36 783.25 L 275.63 786.3 L 276.91 818.83 L 278.18 821.82 L 279.45 824.18 L 280.73 824.52 L 282 819.86 L 283.28 822.15 L 284.55 828.65 L 285.82 830.06 L 287.1 828.9 L 288.37 830.93 L 289.64 832.69 L 290.92 834.79 L 292.19 833.23 L 293.47 836.05 L 294.74 833.27 L 296.01 836.46 L 297.29 835.93 L 298.56 838.59 L 299.83 836.08 L 301.11 839.06 L 302.38 836.89 L 303.66 844.29 L 304.93 842.15 L 306.2 844.37 L 307.48 842.6 L 308.75 845.46 L 310.02 843.3 L 311.3 845.27 L 312.57 843.3 L 313.85 845.77 L 315.12 842.77 L 316.39 853.01 L 317.67 850.67 L 318.94 853.18 L 320.22 850.54 L 321.49 852.35 L 322.76 850.68 L 324.04 853.39 L 325.31 851.46 L 326.58 851.57 L 327.86 852.84 L 329.13 854.86 L 330.41 853.02 L 331.68 856.05 L 332.95 852.75 L 334.23 854.54 L 335.5 852.71 L 336.77 855.31 L 338.05 853.15 L 339.32 855.21 L 340.6 853.2 L 341.87 856.08 L 343.14 854.08 L 344.42 855.74 L 345.69 853.94 L 346.96 855.97 L 348.24 853.99 L 349.51 855.99 L 350.79 854.32 L 352.06 855.65 L 353.33 855.06 L 354.61 855.94 L 355.88 854.36 L 357.15 855.37 L 358.43 854.23 L 359.7 856.09 L 360.98 855.44 L 362.25 857.31 L 363.52 855.79 L 364.8 857.36 L 366.07 855.32 L 367.34 856.9 L 368.62 855.83 L 369.89 857.18 L 371.17 856.11 L 372.44 857.07 L 373.71 856.06 L 374.99 857.11 L 376.26 856.6 L 377.54 857.4 L 378.81 856.61 L 380.08 857.38 L 381.36 855.57 L 382.63 856.98 L 383.9 855.42 L 385.18 855.7 L 386.45 854.91 L 387.73 855.05 L 389 855.73 L 390.27 858.06 L 391.55 855.69 L 392.82 854.05 L 394.09 854.54 L 395.37 856.01 L 396.64 856.16 L 397.92 857 L 399.19 856.15 L 400.46 857.51 L 401.74 855.57 L 403.01 855.76 L 404.28 855.8 L 405.56 855.42 L 406.83 855.7 L 408.11 856.86 L 409.38 857.57 L 410.65 857.11 L 411.93 856.99 L 413.2 857.63 L 414.47 857.43 L 415.75 857.56 L 417.02 857.14 L 418.3 857.05 L 419.57 857.1 L 420.84 857.73 L 422.12 856.04 L 423.39 856.6 L 424.67 855.6 L 425.94 856.02 L 427.21 855.34 L 428.49 854.43 L 429.76 854.75 L 431.03 857.02 L 432.31 854.67 L 433.58 856.19 L 434.86 855.06 L 436.13 856.71 L 437.4 857.63 L 438.68 858.39 L 439.95 857.74 L 441.22 855.38 L 442.5 858.04 L 443.77 858.29 L 445.05 857.22 L 446.32 856.66 L 447.59 857.33 L 448.87 856.9 L 450.14 856.34 L 452.69 856.69 L 453.96 855.99 L 455.24 855.64 L 456.51 855.72 L 457.78 856.21 L 459.06 857.41 L 460.33 856.92 L 461.6 857.04 L 462.88 855.9 L 464.15 856.28 L 465.43 855.61 L 467.97 856.23 L 469.25 855.46 L 470.52 855.57 L 471.79 856.64 L 473.07 855.65 L 474.34 856.78 L 475.62 856.34 L 476.89 857.52 L 478.16 858.03 L 479.44 858.15 L 480.71 857.44 L 481.99 857.78 L 483.26 857.16 L 484.53 856.69 L 485.81 855.6 L 487.08 855.97 L 488.35 856.54 L 489.63 857.79 L 490.9 857.99 L 492.18 857.79 L 493.45 855.12 L 494.72 855.25 L 496 854.86 L 497.27 855.81 L 498.54 855.94 L 499.82 856.81 L 501.09 857.42 L 502.37 856.39 L 503.64 855.75 L 504.91 856.67 L 506.19 857.14 L 507.46 858.46 L 508.73 855.96 L 510.01 857.3 L 511.28 856.09 L 512.56 856.65 L 513.83 855.95 L 515.1 857.75 L 516.38 857.26 L 517.65 855.37 L 518.92 856.82 L 520.2 856.7 L 521.47 856.93 L 522.75 856.67 L 524.02 857.03 L 525.29 856.36 L 526.57 856.07 L 527.84 857.43 L 529.12 857.9 L 530.39 858.86 L 531.66 857.83 L 532.94 856.98 L 534.21 856.33 L 535.48 857.21 L 536.76 857.27 L 538.03 857.72 L 539.31 855.66 L 540.58 855.97 L 541.85 855.42 L 543.13 857.1 L 545.67 857.31 L 546.95 857.86 L 548.22 857.33 L 549.5 858.09 L 552.04 856.94 L 553.32 856.41 L 554.59 856.63 L 555.86 858.11 L 557.14 858.41 L 558.41 858.24 L 559.69 855.95 L 560.96 856.24 L 562.23 856.13 L 563.51 856.44 L 564.78 856.12 L 567.33 855.09 L 568.6 856.29 L 569.88 856.92 L 571.15 857.74 L 572.42 858.38 L 573.7 857.79 L 574.97 856.73 L 577.52 856.14 L 580.07 856.45 L 581.34 856.21 L 582.61 856.16 L 585.16 856.45 L 586.44 855.11 L 587.71 855.04 L 588.98 856.52 L 590.26 856.12 L 591.53 855.83 L 592.8 855.97 L 594.08 856.8 L 595.35 856.93 L 597.9 857.75 L 599.17 857.67 L 600.45 857.26 L 601.72 855.8 L 602.99 856.93 L 604.27 856.6 L 605.54 854.23 L 608.09 856.15 L 609.36 855.69 L 611.91 856.52 L 614.46 854.19 L 615.73 854.68 L 617.01 856.01 L 618.28 855.07 L 619.55 856.14 L 620.83 856.81 L 622.1 857.3 L 623.37 855.34 L 624.65 856.33 L 625.92 856.43 L 627.2 857.38 L 628.47 857.01 L 629.74 857.78 L 631.02 858.03 L 632.29 858.1 L 634.84 858.61 L 636.11 858.39 L 637.39 858.4 L 638.66 857.92 L 639.93 858.06 L 641.21 857.55 L 642.48 857.97 L 643.76 857.92 L 645.03 858.05 L 646.3 856.79 L 647.58 857.2 L 648.85 856.75 L 650.12 856.99 L 651.4 856.69 L 652.67 856.99 L 653.95 856.01 L 655.22 856.59 L 656.49 857.51 L 657.77 856.46 L 659.04 857.16 L 660.31 858.14 L 661.59 857.47 L 662.86 856.22 L 664.14 856.97 L 665.41 857.58 L 666.68 857.12 L 667.96 857.03 L 669.23 857.85 L 670.5 858.38 L 671.78 858.13 L 673.05 858.16 L 674.33 857.05 L 676.87 857 L 678.15 858.1 L 679.42 858.12 L 680.7 857.91 L 681.97 857.89 L 683.24 858.16 L 684.52 857.21 L 685.79 857.83 L 688.34 858.5 L 689.61 856.43 L 690.89 857.86 L 692.16 857.7 L 693.43 856.46 L 694.71 856 L 695.98 857.34 L 697.25 856.44 L 698.53 857.22 L 699.8 857.76 L 701.08 857.61 L 702.35 855.34 L 703.62 857.9 L 704.9 857.92 L 706.17 858.59 L 707.44 858.12 L 708.72 858.15 L 709.99 856.64 L 711.27 856.45 L 712.54 855.4 L 713.81 857.47 L 715.09 856.19 L 717.63 856.57 L 718.91 856.99 L 720.18 857.91 L 721.46 858.19 L 722.73 857.47 L 724 857.71 L 725.28 856 L 726.55 857.34 L 727.83 856.05 L 729.1 856.52 L 730.37 855.41 L 731.65 856.93 L 732.92 856.12 L 734.19 856.81 L 735.47 855.93 L 736.74 856.3 L 738.02 856 L 739.29 857.27 L 740.56 857.24 L 741.84 858.07 L 743.11 855.92 L 744.38 855.08 L 745.66 856.79 L 746.93 857.45 L 748.21 856.63 L 749.48 856.66 L 750.75 857.05 L 752.03 856.76 L 753.3 856.93 L 754.57 856.46 L 755.85 856.11 L 757.12 856.31 L 758.4 855.64 L 759.67 855.44 L 760.94 856.21 L 762.22 856.47 L 763.49 855.78 L 764.76 854.75 L 766.04 855.94 L 767.31 856.48 L 768.59 855.33 L 769.86 856.16 L 771.13 856.08 L 772.41 858.26 L 773.68 857.18 L 776.23 857.52 L 777.5 857.43 L 778.78 858.3 L 780.05 856.79 L 781.32 857.46 L 782.6 857.99 L 785.15 857.77 L 786.42 855.91 L 787.69 857.13 L 788.97 856.39 L 790.24 856.03 L 791.51 856.11 L 792.79 857.66 L 794.06 856.59 L 795.34 856.68 L 796.61 856.18 L 797.88 857.79 L 799.16 857.39 L 800.43 858.34 L 801.7 857.44 L 802.98 856.91 L 804.25 855.75 L 805.53 857.95 L 806.8 856.85 L 808.07 857.65 L 809.35 856.73 L 810.62 857.52 L 811.89 857.59 L 814.44 857.05 L 815.72 857.01 L 816.99 857.22 L 818.26 856.83 L 819.54 856.27 L 820.81 856.53 L 822.08 857.22 L 823.36 856.1 L 824.63 856.93 L 825.91 857.4 L 827.18 858.35 L 828.45 858.08 L 829.73 857.12 L 832.28 856.1 L 833.55 857.02 L 834.82 856.98 L 836.1 856.12 L 837.37 854.89 L 838.64 855.12 L 839.92 856.13 L 841.19 855.79 L 842.47 855.06 L 846.29 857.17 L 847.56 856.26 L 848.83 856.08 L 850.11 855.52 L 851.38 855.66 L 852.66 856.94 L 853.93 856.7 L 855.2 857.42 L 856.48 857.61 L 857.75 857.65 L 859.02 858.21 L 860.3 857.57 L 861.57 858.68 L 862.85 857.55 L 864.12 857.81 L 865.39 857.7 L 866.67 858.4 L 867.94 857.39 L 869.21 857.06 L 870.49 857.07 L 871.76 857.83 L 873.04 858.36 L 874.31 858.3 L 875.58 858.01 L 876.86 858.41 L 878.13 857.17 L 879.41 857.33 L 880.68 857.9 L 881.95 857.46 L 883.23 857.4 L 884.5 857.47 L 885.77 856.16 L 887.05 856.58 L 888.32 856.06 L 889.6 856.61 L 890.87 856.18 L 892.14 856.09 L 893.42 856.86 L 894.69 856.77 L 895.96 856.11 L 897.24 857.56 L 898.51 856.9 L 899.79 857.71 L 901.06 857.25 L 902.33 857.82 L 903.61 855.3 L 904.88 856.65 L 906.15 855.45 L 907.43 857.19 L 908.7 856.39 L 909.98 856.83 L 911.25 856.32 L 912.52 856.57 L 913.8 857.2 L 915.07 858.43 L 916.34 857.24 L 917.62 857.12 L 918.89 856.56 L 920.17 857.83 L 921.44 857.13 L 922.71 857.47 L 923.99 858.8 L 925.26 858.22 L 926.53 856.42 L 927.81 856.73 L 929.08 856.13 L 930.36 857.21 L 931.63 853.53 L 932.9 856.89 L 934.18 857.03 L 935.45 857.51 L 936.73 857.5 L 939.27 858.35 L 940.55 856.02 L 941.82 856.33 L 943.09 857.42 L 944.37 855.42 L 945.64 858.56 L 946.92 858.07 L 948.19 858.43 L 950.74 858.04 L 952.01 857.4 L 953.28 856.47 L 954.56 858.22 L 955.83 858.38 L 957.11 857.11 L 958.38 856.65 L 959.65 856.34 L 960.93 857.21 L 962.2 857.69 L 963.47 857.44 L 964.75 856.56 L 966.02 857.17 L 967.3 855.54 L 968.57 856.59 L 969.84 857.13 L 971.12 858.23 L 972.39 857.9 L 973.66 857.83 L 974.94 856.91 L 977.49 856.71 L 978.76 857.85 L 980.03 858.2 L 981.31 856.77 L 982.58 858.31 L 983.86 858.86 L 985.13 857.33 L 986.4 857.17 L 987.68 856.5 L 988.95 858.33 L 990.22 856.62 L 991.5 856.52 L 992.77 856.29 L 994.05 857.46 L 995.32 856.2 L 996.59 857.17 L 997.87 856.62 L 999.14 855.87 L 1000.41 855.42 L 1001.69 855.89 L 1002.96 854.9 L 1004.24 855.81 L 1005.51 855.64 L 1006.78 857.43 L 1008.06 857.32 L 1009.33 858.02 L 1010.6 857.5 L 1011.88 857.28 L 1013.15 856.59 L 1014.43 857.44 L 1015.7 857.68 L 1016.97 855.81 L 1018.25 857.45 L 1019.52 857 L 1020.79 857.12 L 1022.07 858.31 L 1023.34 857.82 L 1024.62 857.79 L 1025.89 856.95 L 1027.16 857.43 L 1028.44 857.58 L 1029.71 857.6 L 1030.99 856.41 L 1032.26 857.24 L 1033.53 856.68 L 1034.81 856.7 L 1036.08 856.1 L 1037.35 856.89 L 1038.63 856.86 L 1039.9 855.56 L 1041.18 856.88 L 1042.45 857.39 L 1043.72 856.53 L 1045 856.47 L 1046.27 856.83 L 1047.54 856.91 L 1048.82 856.69 L 1050.09 856.25 L 1051.37 855.19 L 1052.64 854.88 L 1053.91 855.25 L 1055.19 855.75 L 1056.46 855.53 L 1057.73 855.98 L 1059.01 856.14 L 1060.28 855.8 L 1061.56 856.75 L 1062.83 857.34 L 1064.1 856.89 L 1067.92 856.86 L 1069.2 855.81 L 1070.47 855.79 L 1071.75 856.06 L 1073.02 855.17 L 1074.29 854.67 L 1075.57 855.32 L 1076.84 855.21 L 1078.11 856.85 L 1079.39 856.48 L 1081.94 857.54 L 1083.21 857.45 L 1084.48 855.84 L 1085.76 857.35 L 1087.03 855.08 L 1088.31 856.95 L 1089.58 855.97 L 1090.85 857.02 L 1092.13 856.76 L 1094.67 856.58 L 1097.22 856.64 L 1098.5 857.08 L 1099.77 857.78 L 1101.04 857.75 L 1102.32 857.21 L 1103.59 857.57 L 1104.86 857.12 L 1106.14 858.12 L 1107.41 858.04 L 1108.69 857.3 L 1109.96 854.77 L 1111.23 855.75 L 1112.51 855.34 L 1113.78 856.76 L 1115.05 856.51 L 1116.33 858.22 L 1117.6 857.57 L 1118.88 858.54 L 1120.15 857.09 L 1121.42 857.95 L 1122.7 858.32 L 1123.97 857.66 L 1125.24 857.22 L 1126.52 854.24 L 1129.07 856.64 L 1130.34 857.96 L 1131.61 857.86 L 1132.89 856.55 L 1135.44 855.77 L 1136.71 856.21 L 1137.98 855.83 L 1139.26 856.21 L 1140.53 855.71 L 1141.8 855.54 L 1143.08 855.53 L 1144.35 855.93 L 1145.63 855.35 L 1146.9 856.6 L 1148.17 856.61 L 1149.45 857.71 L 1150.72 855.98 L 1151.99 856.43 L 1153.27 856.08 L 1154.54 857.6 L 1155.82 856.88 L 1157.09 857.7 L 1158.36 857.12 L 1159.64 857.82 L 1160.91 857.2 L 1162.18 856.83 L 1163.46 855.42 L 1164.73 856.95 L 1166.01 856.39 L 1167.28 857.18 L 1168.55 856.48 L 1169.83 856.74 L 1171.1 855.41 L 1172.37 855.85 L 1173.65 857.01 L 1174.92 857.35 L 1176.2 856.68 L 1177.47 857.51 L 1178.74 857.6 L 1180.02 857.16 L 1181.29 857.21 L 1182.56 857.72 L 1183.84 857.9 L 1185.11 856.95 L 1186.39 856.51 L 1187.66 856.61 L 1188.93 856.34 L 1190.21 856.81 L 1191.48 854.6 L 1192.76 855.44 L 1194.03 854.93 L 1195.3 856.7 L 1197.85 857.87 L 1199.12 856.15 L 1200.4 856.64 L 1201.67 856.79 L 1202.95 857.25 L 1204.22 857.05 L 1205.49 857.61 L 1206.77 857.57 L 1208.04 857.01 L 1209.31 854.83 L 1210.59 857.22 L 1211.86 856.61 L 1213.14 858.16 L 1214.41 857.41 L 1215.68 857.96 L 1216.96 856.72 L 1218.23 855.92 L 1219.5 855.6 L 1220.78 856.46 L 1220.78 856.46" clip-path="url(#p567b58b1b1)" style="fill: none; stroke: #1f77b4; stroke-width: 2.083333; stroke-linecap: square"/>
</g>
<g id="line2d_64">
<path d="M 203.03 780.68 L 204.3 786.08 L 205.57 780.7 L 206.85 786.23 L 208.12 781.33 L 209.4 786.14 L 210.67 781.99 L 211.94 786 L 213.22 780.64 L 214.49 785.95 L 215.76 781.82 L 217.04 786.07 L 218.31 782.29 L 219.59 786.2 L 220.86 784.55 L 222.13 786.21 L 223.41 784.61 L 224.68 786.19 L 225.96 784.23 L 227.23 786.37 L 228.5 783.36 L 229.78 786.2 L 231.05 782.93 L 232.32 786.25 L 233.6 783.64 L 234.87 786.36 L 236.15 783.41 L 237.42 786.16 L 238.69 782.24 L 239.97 785.99 L 241.24 782.59 L 242.51 786.31 L 243.79 782.97 L 245.06 786.22 L 246.34 780.56 L 247.61 786.04 L 248.88 779.36 L 250.16 786.16 L 251.43 780.06 L 252.7 786.04 L 253.98 781.5 L 255.25 785.97 L 256.53 782.04 L 257.8 786.14 L 259.07 781.55 L 260.35 786.14 L 261.62 779.98 L 262.89 786.05 L 264.17 784.63 L 265.44 786.06 L 266.72 781.79 L 267.99 786.13 L 269.26 778.75 L 270.54 786.17 L 271.81 780.66 L 273.09 786.03 L 274.36 783.36 L 275.63 786.07 L 276.91 818.75 L 278.18 821.78 L 279.45 824.07 L 280.73 824.56 L 282 819.92 L 283.28 822.18 L 284.55 828.65 L 285.82 830.35 L 287.1 828.91 L 290.92 835.02 L 292.19 833.11 L 293.47 835.91 L 294.74 833.44 L 296.01 836.6 L 297.29 836.03 L 298.56 838.56 L 299.83 836.16 L 301.11 838.88 L 302.38 836.73 L 303.66 844.48 L 304.93 841.98 L 306.2 844.35 L 307.48 842.68 L 308.75 845.5 L 310.02 843.16 L 311.3 845.19 L 312.57 843.37 L 313.85 845.71 L 315.12 842.97 L 316.39 852.99 L 317.67 850.9 L 318.94 853.17 L 320.22 850.7 L 321.49 852.4 L 322.76 850.68 L 324.04 853.21 L 325.31 851.52 L 326.58 851.57 L 327.86 852.88 L 329.13 854.78 L 330.41 852.89 L 331.68 855.92 L 332.95 852.73 L 334.23 854.65 L 335.5 852.65 L 336.77 855.16 L 338.05 853.04 L 339.32 855.05 L 340.6 852.98 L 341.87 856.02 L 343.14 853.98 L 344.42 855.68 L 345.69 854.17 L 346.96 856.08 L 348.24 854.16 L 349.51 855.99 L 350.79 854.34 L 352.06 855.54 L 353.33 854.82 L 354.61 855.72 L 355.88 854.31 L 357.15 855.42 L 358.43 854.51 L 359.7 856.07 L 360.98 855.24 L 362.25 857.26 L 363.52 855.85 L 364.8 857.2 L 366.07 855.25 L 367.34 856.95 L 368.62 855.84 L 369.89 857.23 L 371.17 856.11 L 372.44 857.06 L 373.71 856.23 L 374.99 857.22 L 376.26 856.62 L 377.54 857.46 L 378.81 856.59 L 380.08 857.36 L 381.36 855.62 L 382.63 857 L 383.9 855.74 L 385.18 855.73 L 386.45 854.96 L 389 855.61 L 390.27 858.07 L 391.55 855.85 L 392.82 854.08 L 394.09 854.54 L 395.37 855.91 L 396.64 856.16 L 397.92 856.91 L 399.19 856.29 L 400.46 857.59 L 401.74 855.54 L 403.01 855.91 L 404.28 855.67 L 405.56 855.31 L 406.83 855.8 L 408.11 856.9 L 409.38 857.43 L 410.65 857.01 L 411.93 856.97 L 413.2 857.55 L 414.47 857.46 L 415.75 857.55 L 417.02 857.21 L 418.3 857.04 L 419.57 857.14 L 420.84 857.68 L 422.12 856.09 L 423.39 856.65 L 424.67 855.69 L 425.94 856.07 L 428.49 854.43 L 429.76 854.92 L 431.03 856.99 L 432.31 854.68 L 433.58 856.39 L 434.86 855.14 L 436.13 856.8 L 438.68 858.27 L 439.95 857.77 L 441.22 855.65 L 442.5 857.82 L 443.77 858.08 L 445.05 857.29 L 446.32 856.69 L 447.59 857.2 L 448.87 857.02 L 450.14 856.37 L 452.69 856.68 L 453.96 855.92 L 455.24 855.68 L 456.51 855.63 L 457.78 856.06 L 459.06 857.32 L 460.33 856.97 L 461.6 857.18 L 462.88 855.81 L 464.15 856.15 L 465.43 855.64 L 466.7 856.03 L 467.97 856.18 L 469.25 855.65 L 470.52 855.47 L 471.79 856.82 L 473.07 855.73 L 474.34 856.57 L 475.62 856.41 L 476.89 857.49 L 478.16 858.01 L 479.44 858.06 L 480.71 857.44 L 481.99 857.69 L 483.26 857.18 L 484.53 856.82 L 485.81 855.77 L 487.08 856.1 L 488.35 856.65 L 489.63 857.85 L 490.9 857.97 L 492.18 857.65 L 493.45 855.25 L 494.72 855.19 L 496 854.89 L 497.27 855.63 L 498.54 855.99 L 499.82 856.99 L 501.09 857.41 L 502.37 856.5 L 503.64 855.73 L 504.91 856.69 L 506.19 857.08 L 507.46 858.12 L 508.73 856.01 L 510.01 857.36 L 511.28 856.16 L 512.56 856.86 L 513.83 856.06 L 515.1 857.81 L 516.38 857.18 L 517.65 855.74 L 518.92 856.65 L 520.2 856.65 L 521.47 856.87 L 522.75 856.81 L 524.02 857.07 L 526.57 855.85 L 527.84 857.36 L 530.39 858.8 L 531.66 857.67 L 534.21 856.25 L 535.48 857.21 L 536.76 857.31 L 538.03 857.6 L 539.31 855.66 L 540.58 856.14 L 541.85 855.39 L 543.13 857.08 L 544.4 857.15 L 545.67 857.36 L 546.95 857.93 L 548.22 857.22 L 549.5 858.11 L 550.77 857.69 L 552.04 856.73 L 553.32 856.54 L 554.59 856.74 L 555.86 857.92 L 557.14 858.2 L 558.41 858.17 L 559.69 856.13 L 562.23 856.13 L 563.51 856.46 L 564.78 856.11 L 566.05 855.9 L 567.33 855.13 L 568.6 856.14 L 571.15 857.83 L 572.42 858.25 L 573.7 857.81 L 574.97 856.65 L 576.25 856.24 L 577.52 856.02 L 578.79 856.42 L 580.07 856.43 L 581.34 856 L 582.61 856.25 L 583.89 856.22 L 585.16 856.07 L 586.44 854.97 L 587.71 854.74 L 588.98 856.44 L 590.26 856.47 L 591.53 856.09 L 592.8 856 L 594.08 856.69 L 595.35 856.78 L 597.9 857.78 L 599.17 857.83 L 600.45 857.27 L 601.72 855.96 L 602.99 856.92 L 604.27 856.33 L 605.54 854.27 L 606.82 855.32 L 608.09 856.23 L 609.36 855.83 L 610.64 855.97 L 611.91 856.49 L 614.46 854.24 L 615.73 854.75 L 617.01 856.13 L 618.28 855.02 L 619.55 856 L 620.83 856.76 L 622.1 857.28 L 623.37 855.28 L 624.65 856.21 L 625.92 856.55 L 627.2 857.51 L 628.47 857.14 L 629.74 857.88 L 631.02 858.1 L 632.29 858.05 L 634.84 858.65 L 636.11 858.16 L 637.39 858.43 L 638.66 857.66 L 639.93 858.29 L 641.21 857.64 L 642.48 857.89 L 645.03 857.98 L 646.3 856.99 L 647.58 857.35 L 648.85 856.76 L 650.12 856.93 L 651.4 856.77 L 652.67 857.03 L 653.95 856.01 L 655.22 856.53 L 656.49 857.32 L 657.77 856.28 L 660.31 857.93 L 661.59 857.35 L 662.86 856.45 L 664.14 856.98 L 665.41 857.67 L 666.68 857.05 L 667.96 857.2 L 670.5 858.49 L 671.78 858.27 L 673.05 858.22 L 674.33 857.31 L 675.6 856.87 L 676.87 856.96 L 678.15 858.17 L 680.7 857.98 L 681.97 858.17 L 683.24 858.13 L 684.52 857.25 L 685.79 857.77 L 687.06 858.1 L 688.34 858.26 L 689.61 856.49 L 690.89 858.04 L 692.16 857.71 L 693.43 856.62 L 694.71 855.84 L 695.98 857.32 L 697.25 856.42 L 698.53 857.32 L 699.8 857.77 L 701.08 857.68 L 702.35 855.54 L 703.62 857.76 L 704.9 857.91 L 706.17 858.64 L 707.44 858.04 L 708.72 858.2 L 709.99 856.41 L 711.27 856.32 L 712.54 855.36 L 713.81 857.24 L 715.09 856.47 L 717.63 856.74 L 718.91 857.1 L 720.18 858.03 L 721.46 858.16 L 722.73 857.44 L 724 857.44 L 725.28 856.12 L 726.55 857.32 L 727.83 855.79 L 729.1 856.42 L 730.37 855.48 L 731.65 856.72 L 732.92 856.06 L 734.19 856.53 L 735.47 855.87 L 736.74 856.29 L 738.02 855.69 L 739.29 857.17 L 740.56 857.29 L 741.84 858.02 L 743.11 856.11 L 744.38 855.19 L 745.66 856.94 L 746.93 857.29 L 748.21 856.5 L 749.48 856.7 L 750.75 857.11 L 752.03 856.69 L 753.3 856.9 L 754.57 856.33 L 755.85 856.05 L 757.12 856.36 L 758.4 855.82 L 759.67 855.51 L 760.94 856.32 L 762.22 856.48 L 763.49 855.85 L 764.76 854.87 L 766.04 855.82 L 767.31 856.6 L 768.59 855.41 L 769.86 856.29 L 771.13 856.14 L 772.41 858.17 L 773.68 857.12 L 774.95 857.39 L 776.23 857.19 L 777.5 857.32 L 778.78 858.21 L 780.05 856.72 L 782.6 857.85 L 783.87 857.86 L 785.15 857.69 L 786.42 856.07 L 787.69 857.13 L 788.97 856.38 L 790.24 856.14 L 791.51 856.09 L 792.79 857.65 L 794.06 856.74 L 795.34 856.8 L 796.61 856.15 L 797.88 857.62 L 799.16 857.3 L 800.43 858.4 L 801.7 857.22 L 802.98 856.87 L 804.25 855.74 L 805.53 857.75 L 806.8 857.01 L 808.07 857.61 L 809.35 856.53 L 810.62 857.39 L 811.89 857.64 L 813.17 857.5 L 814.44 857.08 L 815.72 857.03 L 816.99 857.2 L 818.26 857.04 L 819.54 856.43 L 820.81 856.33 L 822.08 857.23 L 823.36 856.17 L 824.63 856.9 L 825.91 857.46 L 827.18 858.43 L 828.45 857.97 L 831 856.63 L 832.28 856.24 L 833.55 857.05 L 834.82 856.96 L 836.1 856.29 L 837.37 854.94 L 838.64 855.32 L 839.92 856.21 L 841.19 856.06 L 842.47 854.96 L 843.74 855.75 L 846.29 857.03 L 847.56 856.29 L 850.11 855.51 L 851.38 855.83 L 852.66 857.01 L 853.93 856.63 L 855.2 857.39 L 856.48 857.7 L 857.75 857.85 L 859.02 858.18 L 860.3 857.59 L 861.57 858.74 L 862.85 857.52 L 864.12 857.85 L 865.39 857.73 L 866.67 858.56 L 867.94 857.31 L 869.21 857.07 L 870.49 857.11 L 873.04 858.32 L 874.31 858.3 L 875.58 857.82 L 876.86 858.35 L 878.13 857.02 L 879.41 857.26 L 880.68 857.81 L 881.95 857.39 L 884.5 857.63 L 885.77 856.26 L 887.05 856.47 L 888.32 856.1 L 889.6 856.45 L 890.87 856.25 L 892.14 856.18 L 893.42 856.82 L 894.69 856.77 L 895.96 856.21 L 897.24 857.65 L 898.51 856.82 L 899.79 857.62 L 901.06 857.03 L 902.33 857.77 L 903.61 855.22 L 904.88 856.65 L 906.15 855.51 L 907.43 857.01 L 908.7 856.29 L 909.98 856.78 L 911.25 856.12 L 912.52 856.54 L 913.8 857.13 L 915.07 858.47 L 916.34 857.32 L 917.62 857.2 L 918.89 856.53 L 920.17 857.85 L 921.44 857.16 L 922.71 857.6 L 923.99 858.56 L 925.26 858.18 L 926.53 856.31 L 927.81 856.74 L 929.08 856.26 L 930.36 857.23 L 931.63 853.54 L 932.9 856.8 L 934.18 857.07 L 935.45 857.53 L 936.73 857.37 L 938 858.01 L 939.27 858.29 L 940.55 855.74 L 941.82 856.31 L 943.09 857.48 L 944.37 855.47 L 945.64 858.57 L 946.92 858.05 L 948.19 858.51 L 949.46 858.29 L 952.01 857.3 L 953.28 856.48 L 954.56 858.2 L 955.83 858.48 L 957.11 857.23 L 958.38 856.66 L 959.65 856.29 L 960.93 857.42 L 962.2 857.58 L 963.47 857.43 L 964.75 856.81 L 966.02 857.25 L 967.3 855.61 L 968.57 856.58 L 969.84 857.27 L 971.12 858.59 L 972.39 857.94 L 973.66 857.79 L 974.94 857.05 L 976.21 857.01 L 977.49 856.76 L 978.76 857.75 L 980.03 858.24 L 981.31 856.67 L 982.58 858.43 L 983.86 858.84 L 985.13 857.4 L 986.4 857.18 L 987.68 856.6 L 988.95 858.07 L 990.22 856.66 L 992.77 856.33 L 994.05 857.27 L 995.32 856.37 L 996.59 857.09 L 997.87 856.68 L 999.14 855.8 L 1000.41 855.4 L 1001.69 855.83 L 1002.96 854.7 L 1004.24 855.73 L 1005.51 855.81 L 1006.78 857.29 L 1008.06 857.34 L 1009.33 857.8 L 1010.6 857.64 L 1011.88 857.1 L 1013.15 856.44 L 1014.43 857.42 L 1015.7 857.75 L 1016.97 855.64 L 1018.25 857.43 L 1019.52 857.07 L 1020.79 857.12 L 1022.07 858.21 L 1023.34 857.87 L 1024.62 857.93 L 1025.89 857.24 L 1027.16 857.59 L 1028.44 857.37 L 1029.71 857.76 L 1030.99 856.54 L 1032.26 857.27 L 1033.53 856.77 L 1034.81 856.84 L 1036.08 856.07 L 1037.35 856.73 L 1038.63 856.83 L 1039.9 855.64 L 1041.18 856.81 L 1042.45 857.31 L 1043.72 856.37 L 1047.54 856.89 L 1048.82 856.59 L 1050.09 856.42 L 1051.37 855.32 L 1052.64 855.17 L 1053.91 855.16 L 1055.19 855.63 L 1056.46 855.57 L 1059.01 856.07 L 1060.28 855.89 L 1061.56 856.76 L 1062.83 857.45 L 1064.1 856.8 L 1066.65 856.89 L 1067.92 856.97 L 1069.2 855.96 L 1070.47 855.95 L 1071.75 856.07 L 1073.02 855.08 L 1074.29 854.61 L 1075.57 855.33 L 1076.84 855.02 L 1078.11 856.73 L 1079.39 856.26 L 1080.66 857.05 L 1081.94 857.57 L 1083.21 857.34 L 1084.48 855.97 L 1085.76 857.36 L 1087.03 855.07 L 1088.31 857.04 L 1089.58 856.02 L 1090.85 856.88 L 1093.4 856.49 L 1094.67 856.66 L 1095.95 856.61 L 1098.5 856.99 L 1099.77 857.63 L 1101.04 857.9 L 1102.32 857.32 L 1103.59 857.39 L 1104.86 857.26 L 1106.14 858.03 L 1107.41 858.23 L 1108.69 857.37 L 1109.96 854.69 L 1111.23 855.72 L 1112.51 855.32 L 1113.78 856.38 L 1115.05 856.6 L 1116.33 858.18 L 1117.6 857.67 L 1118.88 858.18 L 1120.15 857.18 L 1121.42 857.96 L 1122.7 858.18 L 1123.97 857.91 L 1125.24 857.32 L 1126.52 854.12 L 1127.79 855.31 L 1130.34 858.18 L 1131.61 857.93 L 1132.89 856.5 L 1134.16 856.42 L 1135.44 855.7 L 1136.71 856.38 L 1137.98 855.91 L 1139.26 856.2 L 1140.53 855.63 L 1141.8 855.47 L 1143.08 855.53 L 1144.35 856.11 L 1145.63 855.35 L 1146.9 856.49 L 1148.17 856.78 L 1149.45 857.84 L 1150.72 855.99 L 1151.99 856.59 L 1153.27 856.11 L 1154.54 857.83 L 1155.82 856.87 L 1157.09 857.61 L 1158.36 857.07 L 1159.64 857.84 L 1160.91 857.22 L 1162.18 856.76 L 1163.46 855.35 L 1164.73 856.79 L 1166.01 856.32 L 1167.28 857.39 L 1168.55 856.46 L 1169.83 856.61 L 1171.1 855.33 L 1172.37 855.75 L 1173.65 857 L 1174.92 857.24 L 1176.2 856.83 L 1177.47 857.4 L 1178.74 857.57 L 1181.29 857.21 L 1182.56 857.88 L 1183.84 857.88 L 1185.11 857.05 L 1187.66 856.49 L 1188.93 856.41 L 1190.21 856.67 L 1191.48 854.6 L 1192.76 855.36 L 1194.03 854.95 L 1195.3 856.55 L 1196.58 857.07 L 1197.85 857.94 L 1199.12 856.16 L 1200.4 856.8 L 1201.67 856.82 L 1202.95 857.26 L 1204.22 856.94 L 1205.49 857.44 L 1206.77 857.59 L 1208.04 856.86 L 1209.31 855.01 L 1210.59 857.41 L 1211.86 856.68 L 1213.14 858.32 L 1214.41 857.4 L 1215.68 857.89 L 1216.96 857.03 L 1218.23 855.89 L 1219.5 855.77 L 1220.78 856.36 L 1220.78 856.36" clip-path="url(#p567b58b1b1)" style="fill: none; stroke: #ff7f0e; stroke-width: 2.083333; stroke-linecap: square"/>
</g>
<g id="line2d_65">
<path d="M 203.03 780.88 L 204.3 786.13 L 205.57 780.69 L 206.85 786.2 L 208.12 781.15 L 209.4 786.09 L 210.67 781.8 L 211.94 786.04 L 213.22 780.78 L 214.49 785.83 L 215.76 781.97 L 217.04 786.27 L 218.31 782.35 L 219.59 786.15 L 220.86 784.4 L 222.13 786.2 L 223.41 784.48 L 224.68 786.19 L 225.96 784.44 L 227.23 786.51 L 228.5 783.57 L 229.78 786.22 L 231.05 783.19 L 232.32 786.43 L 233.6 783.75 L 234.87 786.24 L 236.15 783.33 L 237.42 786.21 L 238.69 782.21 L 239.97 786.02 L 241.24 782.24 L 242.51 786.52 L 243.79 783.23 L 245.06 786.47 L 246.34 780.74 L 247.61 786.09 L 248.88 779.24 L 250.16 786.19 L 251.43 780.09 L 252.7 786.06 L 253.98 781.48 L 255.25 786.09 L 256.53 781.96 L 257.8 786.15 L 259.07 781.52 L 260.35 786.07 L 261.62 779.91 L 262.89 785.95 L 264.17 784.74 L 265.44 786.01 L 266.72 782 L 267.99 786.4 L 269.26 778.8 L 270.54 786.12 L 271.81 780.61 L 273.09 785.99 L 274.36 783.25 L 275.63 786.3 L 276.91 818.83 L 278.18 821.82 L 279.45 824.18 L 280.73 824.52 L 282 819.86 L 283.28 822.15 L 284.55 828.65 L 285.82 830.06 L 287.1 828.9 L 288.37 830.93 L 289.64 832.69 L 290.92 834.79 L 292.19 833.23 L 293.47 836.05 L 294.74 833.27 L 296.01 836.46 L 297.29 835.93 L 298.56 838.59 L 299.83 836.08 L 301.11 839.06 L 302.38 836.89 L 303.66 844.29 L 304.93 842.15 L 306.2 844.37 L 307.48 842.6 L 308.75 845.46 L 310.02 843.3 L 311.3 845.27 L 312.57 843.3 L 313.85 845.77 L 315.12 842.77 L 316.39 853.01 L 317.67 850.67 L 318.94 853.18 L 320.22 850.54 L 321.49 852.35 L 322.76 850.68 L 324.04 853.39 L 325.31 851.46 L 326.58 851.57 L 327.86 852.84 L 329.13 854.86 L 330.41 853.02 L 331.68 856.05 L 332.95 852.75 L 334.23 854.54 L 335.5 852.71 L 336.77 855.31 L 338.05 853.15 L 339.32 855.21 L 340.6 853.2 L 341.87 856.08 L 343.14 854.08 L 344.42 855.74 L 345.69 853.94 L 346.96 855.97 L 348.24 853.99 L 349.51 855.99 L 350.79 854.32 L 352.06 855.65 L 353.33 855.06 L 354.61 855.94 L 355.88 854.36 L 357.15 855.37 L 358.43 854.23 L 359.7 856.09 L 360.98 855.44 L 362.25 857.31 L 363.52 855.79 L 364.8 857.36 L 366.07 855.32 L 367.34 856.9 L 368.62 855.83 L 369.89 857.18 L 371.17 856.11 L 372.44 857.07 L 373.71 856.06 L 374.99 857.11 L 376.26 856.6 L 377.54 857.4 L 378.81 856.61 L 380.08 857.38 L 381.36 855.57 L 382.63 856.98 L 383.9 855.42 L 385.18 855.7 L 386.45 854.91 L 387.73 855.05 L 389 855.73 L 390.27 858.06 L 391.55 855.69 L 392.82 854.05 L 394.09 854.54 L 395.37 856.01 L 396.64 856.16 L 397.92 857 L 399.19 856.15 L 400.46 857.51 L 401.74 855.57 L 403.01 855.76 L 404.28 855.8 L 405.56 855.42 L 406.83 855.7 L 408.11 856.86 L 409.38 857.57 L 410.65 857.11 L 411.93 856.99 L 413.2 857.63 L 414.47 857.43 L 415.75 857.56 L 417.02 857.14 L 418.3 857.05 L 419.57 857.1 L 420.84 857.73 L 422.12 856.04 L 423.39 856.6 L 424.67 855.6 L 425.94 856.02 L 427.21 855.34 L 428.49 854.43 L 429.76 854.75 L 431.03 857.02 L 432.31 854.67 L 433.58 856.19 L 434.86 855.06 L 436.13 856.71 L 437.4 857.63 L 438.68 858.39 L 439.95 857.74 L 441.22 855.38 L 442.5 858.04 L 443.77 858.29 L 445.05 857.22 L 446.32 856.66 L 447.59 857.33 L 448.87 856.9 L 450.14 856.34 L 452.69 856.69 L 453.96 855.99 L 455.24 855.64 L 456.51 855.72 L 457.78 856.21 L 459.06 857.41 L 460.33 856.92 L 461.6 857.04 L 462.88 855.9 L 464.15 856.28 L 465.43 855.61 L 467.97 856.23 L 469.25 855.46 L 470.52 855.57 L 471.79 856.64 L 473.07 855.65 L 474.34 856.78 L 475.62 856.34 L 476.89 857.52 L 478.16 858.03 L 479.44 858.15 L 480.71 857.44 L 481.99 857.78 L 483.26 857.16 L 484.53 856.69 L 485.81 855.6 L 487.08 855.97 L 488.35 856.54 L 489.63 857.79 L 490.9 857.99 L 492.18 857.79 L 493.45 855.12 L 494.72 855.25 L 496 854.86 L 497.27 855.81 L 498.54 855.94 L 499.82 856.81 L 501.09 857.42 L 502.37 856.39 L 503.64 855.75 L 504.91 856.67 L 506.19 857.14 L 507.46 858.46 L 508.73 855.96 L 510.01 857.3 L 511.28 856.09 L 512.56 856.65 L 513.83 855.95 L 515.1 857.75 L 516.38 857.26 L 517.65 855.37 L 518.92 856.82 L 520.2 856.7 L 521.47 856.93 L 522.75 856.67 L 524.02 857.03 L 525.29 856.36 L 526.57 856.07 L 527.84 857.43 L 529.12 857.9 L 530.39 858.86 L 531.66 857.83 L 532.94 856.98 L 534.21 856.33 L 535.48 857.21 L 536.76 857.27 L 538.03 857.72 L 539.31 855.66 L 540.58 855.97 L 541.85 855.42 L 543.13 857.1 L 545.67 857.31 L 546.95 857.86 L 548.22 857.33 L 549.5 858.09 L 552.04 856.94 L 553.32 856.41 L 554.59 856.63 L 555.86 858.11 L 557.14 858.41 L 558.41 858.24 L 559.69 855.95 L 560.96 856.24 L 562.23 856.13 L 563.51 856.44 L 564.78 856.12 L 567.33 855.09 L 568.6 856.29 L 569.88 856.92 L 571.15 857.74 L 572.42 858.38 L 573.7 857.79 L 574.97 856.73 L 577.52 856.14 L 580.07 856.45 L 581.34 856.21 L 582.61 856.16 L 585.16 856.45 L 586.44 855.11 L 587.71 855.04 L 588.98 856.52 L 590.26 856.12 L 591.53 855.83 L 592.8 855.97 L 594.08 856.8 L 595.35 856.93 L 597.9 857.75 L 599.17 857.67 L 600.45 857.26 L 601.72 855.8 L 602.99 856.93 L 604.27 856.6 L 605.54 854.23 L 608.09 856.15 L 609.36 855.69 L 611.91 856.52 L 614.46 854.19 L 615.73 854.68 L 617.01 856.01 L 618.28 855.07 L 619.55 856.14 L 620.83 856.81 L 622.1 857.3 L 623.37 855.34 L 624.65 856.33 L 625.92 856.43 L 627.2 857.38 L 628.47 857.01 L 629.74 857.78 L 631.02 858.03 L 632.29 858.1 L 634.84 858.61 L 636.11 858.39 L 637.39 858.4 L 638.66 857.92 L 639.93 858.06 L 641.21 857.55 L 642.48 857.97 L 643.76 857.92 L 645.03 858.05 L 646.3 856.79 L 647.58 857.2 L 648.85 856.75 L 650.12 856.99 L 651.4 856.69 L 652.67 856.99 L 653.95 856.01 L 655.22 856.59 L 656.49 857.51 L 657.77 856.46 L 659.04 857.16 L 660.31 858.14 L 661.59 857.47 L 662.86 856.22 L 664.14 856.97 L 665.41 857.58 L 666.68 857.12 L 667.96 857.03 L 669.23 857.85 L 670.5 858.38 L 671.78 858.13 L 673.05 858.16 L 674.33 857.05 L 676.87 857 L 678.15 858.1 L 679.42 858.12 L 680.7 857.91 L 681.97 857.89 L 683.24 858.16 L 684.52 857.21 L 685.79 857.83 L 688.34 858.5 L 689.61 856.43 L 690.89 857.86 L 692.16 857.7 L 693.43 856.46 L 694.71 856 L 695.98 857.34 L 697.25 856.44 L 698.53 857.22 L 699.8 857.76 L 701.08 857.61 L 702.35 855.34 L 703.62 857.9 L 704.9 857.92 L 706.17 858.59 L 707.44 858.12 L 708.72 858.15 L 709.99 856.64 L 711.27 856.45 L 712.54 855.4 L 713.81 857.47 L 715.09 856.19 L 717.63 856.57 L 718.91 856.99 L 720.18 857.91 L 721.46 858.19 L 722.73 857.47 L 724 857.71 L 725.28 856 L 726.55 857.34 L 727.83 856.05 L 729.1 856.52 L 730.37 855.41 L 731.65 856.93 L 732.92 856.12 L 734.19 856.81 L 735.47 855.93 L 736.74 856.3 L 738.02 856 L 739.29 857.27 L 740.56 857.24 L 741.84 858.07 L 743.11 855.92 L 744.38 855.08 L 745.66 856.79 L 746.93 857.45 L 748.21 856.63 L 749.48 856.66 L 750.75 857.05 L 752.03 856.76 L 753.3 856.93 L 754.57 856.46 L 755.85 856.11 L 757.12 856.31 L 758.4 855.64 L 759.67 855.44 L 760.94 856.21 L 762.22 856.47 L 763.49 855.78 L 764.76 854.75 L 766.04 855.94 L 767.31 856.48 L 768.59 855.33 L 769.86 856.16 L 771.13 856.08 L 772.41 858.26 L 773.68 857.18 L 776.23 857.52 L 777.5 857.43 L 778.78 858.3 L 780.05 856.79 L 781.32 857.46 L 782.6 857.99 L 785.15 857.77 L 786.42 855.91 L 787.69 857.13 L 788.97 856.39 L 790.24 856.03 L 791.51 856.11 L 792.79 857.66 L 794.06 856.59 L 795.34 856.68 L 796.61 856.18 L 797.88 857.79 L 799.16 857.39 L 800.43 858.34 L 801.7 857.44 L 802.98 856.91 L 804.25 855.75 L 805.53 857.95 L 806.8 856.85 L 808.07 857.65 L 809.35 856.73 L 810.62 857.52 L 811.89 857.59 L 814.44 857.05 L 815.72 857.01 L 816.99 857.22 L 818.26 856.83 L 819.54 856.27 L 820.81 856.53 L 822.08 857.22 L 823.36 856.1 L 824.63 856.93 L 825.91 857.4 L 827.18 858.35 L 828.45 858.08 L 829.73 857.12 L 832.28 856.1 L 833.55 857.02 L 834.82 856.98 L 836.1 856.12 L 837.37 854.89 L 838.64 855.12 L 839.92 856.13 L 841.19 855.79 L 842.47 855.06 L 846.29 857.17 L 847.56 856.26 L 848.83 856.08 L 850.11 855.52 L 851.38 855.66 L 852.66 856.94 L 853.93 856.7 L 855.2 857.42 L 856.48 857.61 L 857.75 857.65 L 859.02 858.21 L 860.3 857.57 L 861.57 858.68 L 862.85 857.55 L 864.12 857.81 L 865.39 857.7 L 866.67 858.4 L 867.94 857.39 L 869.21 857.06 L 870.49 857.07 L 871.76 857.83 L 873.04 858.36 L 874.31 858.3 L 875.58 858.01 L 876.86 858.41 L 878.13 857.17 L 879.41 857.33 L 880.68 857.9 L 881.95 857.46 L 883.23 857.4 L 884.5 857.47 L 885.77 856.16 L 887.05 856.58 L 888.32 856.06 L 889.6 856.61 L 890.87 856.18 L 892.14 856.09 L 893.42 856.86 L 894.69 856.77 L 895.96 856.11 L 897.24 857.56 L 898.51 856.9 L 899.79 857.71 L 901.06 857.25 L 902.33 857.82 L 903.61 855.3 L 904.88 856.65 L 906.15 855.45 L 907.43 857.19 L 908.7 856.39 L 909.98 856.83 L 911.25 856.32 L 912.52 856.57 L 913.8 857.2 L 915.07 858.43 L 916.34 857.24 L 917.62 857.12 L 918.89 856.56 L 920.17 857.83 L 921.44 857.13 L 922.71 857.47 L 923.99 858.8 L 925.26 858.22 L 926.53 856.42 L 927.81 856.73 L 929.08 856.13 L 930.36 857.21 L 931.63 853.53 L 932.9 856.89 L 934.18 857.03 L 935.45 857.51 L 936.73 857.5 L 939.27 858.35 L 940.55 856.02 L 941.82 856.33 L 943.09 857.42 L 944.37 855.42 L 945.64 858.56 L 946.92 858.07 L 948.19 858.43 L 950.74 858.04 L 952.01 857.4 L 953.28 856.47 L 954.56 858.22 L 955.83 858.38 L 957.11 857.11 L 958.38 856.65 L 959.65 856.34 L 960.93 857.21 L 962.2 857.69 L 963.47 857.44 L 964.75 856.56 L 966.02 857.17 L 967.3 855.54 L 968.57 856.59 L 969.84 857.13 L 971.12 858.23 L 972.39 857.9 L 973.66 857.83 L 974.94 856.91 L 977.49 856.71 L 978.76 857.85 L 980.03 858.2 L 981.31 856.77 L 982.58 858.31 L 983.86 858.86 L 985.13 857.33 L 986.4 857.17 L 987.68 856.5 L 988.95 858.33 L 990.22 856.62 L 991.5 856.52 L 992.77 856.29 L 994.05 857.46 L 995.32 856.2 L 996.59 857.17 L 997.87 856.62 L 999.14 855.87 L 1000.41 855.42 L 1001.69 855.89 L 1002.96 854.9 L 1004.24 855.81 L 1005.51 855.64 L 1006.78 857.43 L 1008.06 857.32 L 1009.33 858.02 L 1010.6 857.5 L 1011.88 857.28 L 1013.15 856.59 L 1014.43 857.44 L 1015.7 857.68 L 1016.97 855.81 L 1018.25 857.45 L 1019.52 857 L 1020.79 857.12 L 1022.07 858.31 L 1023.34 857.82 L 1024.62 857.79 L 1025.89 856.95 L 1027.16 857.43 L 1028.44 857.58 L 1029.71 857.6 L 1030.99 856.41 L 1032.26 857.24 L 1033.53 856.68 L 1034.81 856.7 L 1036.08 856.1 L 1037.35 856.89 L 1038.63 856.86 L 1039.9 855.56 L 1041.18 856.88 L 1042.45 857.39 L 1043.72 856.53 L 1045 856.47 L 1046.27 856.83 L 1047.54 856.91 L 1048.82 856.69 L 1050.09 856.25 L 1051.37 855.19 L 1052.64 854.88 L 1053.91 855.25 L 1055.19 855.75 L 1056.46 855.53 L 1057.73 855.98 L 1059.01 856.14 L 1060.28 855.8 L 1061.56 856.75 L 1062.83 857.34 L 1064.1 856.89 L 1067.92 856.86 L 1069.2 855.81 L 1070.47 855.79 L 1071.75 856.06 L 1073.02 855.17 L 1074.29 854.67 L 1075.57 855.32 L 1076.84 855.21 L 1078.11 856.85 L 1079.39 856.48 L 1081.94 857.54 L 1083.21 857.45 L 1084.48 855.84 L 1085.76 857.35 L 1087.03 855.08 L 1088.31 856.95 L 1089.58 855.97 L 1090.85 857.02 L 1092.13 856.76 L 1094.67 856.58 L 1097.22 856.64 L 1098.5 857.08 L 1099.77 857.78 L 1101.04 857.75 L 1102.32 857.21 L 1103.59 857.57 L 1104.86 857.12 L 1106.14 858.12 L 1107.41 858.04 L 1108.69 857.3 L 1109.96 854.77 L 1111.23 855.75 L 1112.51 855.34 L 1113.78 856.76 L 1115.05 856.51 L 1116.33 858.22 L 1117.6 857.57 L 1118.88 858.54 L 1120.15 857.09 L 1121.42 857.95 L 1122.7 858.32 L 1123.97 857.66 L 1125.24 857.22 L 1126.52 854.24 L 1129.07 856.64 L 1130.34 857.96 L 1131.61 857.86 L 1132.89 856.55 L 1135.44 855.77 L 1136.71 856.21 L 1137.98 855.83 L 1139.26 856.21 L 1140.53 855.71 L 1141.8 855.54 L 1143.08 855.53 L 1144.35 855.93 L 1145.63 855.35 L 1146.9 856.6 L 1148.17 856.61 L 1149.45 857.71 L 1150.72 855.98 L 1151.99 856.43 L 1153.27 856.08 L 1154.54 857.6 L 1155.82 856.88 L 1157.09 857.7 L 1158.36 857.12 L 1159.64 857.82 L 1160.91 857.2 L 1162.18 856.83 L 1163.46 855.42 L 1164.73 856.95 L 1166.01 856.39 L 1167.28 857.18 L 1168.55 856.48 L 1169.83 856.74 L 1171.1 855.41 L 1172.37 855.85 L 1173.65 857.01 L 1174.92 857.35 L 1176.2 856.68 L 1177.47 857.51 L 1178.74 857.6 L 1180.02 857.16 L 1181.29 857.21 L 1182.56 857.72 L 1183.84 857.9 L 1185.11 856.95 L 1186.39 856.51 L 1187.66 856.61 L 1188.93 856.34 L 1190.21 856.81 L 1191.48 854.6 L 1192.76 855.44 L 1194.03 854.93 L 1195.3 856.7 L 1197.85 857.87 L 1199.12 856.15 L 1200.4 856.64 L 1201.67 856.79 L 1202.95 857.25 L 1204.22 857.05 L 1205.49 857.61 L 1206.77 857.57 L 1208.04 857.01 L 1209.31 854.83 L 1210.59 857.22 L 1211.86 856.61 L 1213.14 858.16 L 1214.41 857.41 L 1215.68 857.96 L 1216.96 856.72 L 1218.23 855.92 L 1219.5 855.6 L 1220.78 856.46 L 1220.78 856.46" clip-path="url(#p567b58b1b1)" style="fill: none; stroke: #2ca02c; stroke-width: 2.083333; stroke-linecap: square"/>
</g>
<g id="line2d_66">
<path d="M 203.03 780.68 L 204.3 786.08 L 205.57 780.7 L 206.85 786.23 L 208.12 781.33 L 209.4 786.14 L 210.67 781.99 L 211.94 786 L 213.22 780.64 L 214.49 785.95 L 215.76 781.82 L 217.04 786.07 L 218.31 782.29 L 219.59 786.2 L 220.86 784.55 L 222.13 786.21 L 223.41 784.61 L 224.68 786.19 L 225.96 784.23 L 227.23 786.37 L 228.5 783.36 L 229.78 786.2 L 231.05 782.93 L 232.32 786.25 L 233.6 783.64 L 234.87 786.36 L 236.15 783.41 L 237.42 786.16 L 238.69 782.24 L 239.97 785.99 L 241.24 782.59 L 242.51 786.31 L 243.79 782.97 L 245.06 786.22 L 246.34 780.56 L 247.61 786.04 L 248.88 779.36 L 250.16 786.16 L 251.43 780.06 L 252.7 786.04 L 253.98 781.5 L 255.25 785.97 L 256.53 782.04 L 257.8 786.14 L 259.07 781.55 L 260.35 786.14 L 261.62 779.98 L 262.89 786.05 L 264.17 784.63 L 265.44 786.06 L 266.72 781.79 L 267.99 786.13 L 269.26 778.75 L 270.54 786.17 L 271.81 780.66 L 273.09 786.03 L 274.36 783.36 L 275.63 786.07 L 276.91 818.75 L 278.18 821.78 L 279.45 824.07 L 280.73 824.56 L 282 819.92 L 283.28 822.18 L 284.55 828.65 L 285.82 830.35 L 287.1 828.91 L 290.92 835.02 L 292.19 833.11 L 293.47 835.91 L 294.74 833.44 L 296.01 836.6 L 297.29 836.03 L 298.56 838.56 L 299.83 836.16 L 301.11 838.88 L 302.38 836.73 L 303.66 844.48 L 304.93 841.98 L 306.2 844.35 L 307.48 842.68 L 308.75 845.5 L 310.02 843.16 L 311.3 845.19 L 312.57 843.37 L 313.85 845.71 L 315.12 842.97 L 316.39 852.99 L 317.67 850.9 L 318.94 853.17 L 320.22 850.7 L 321.49 852.4 L 322.76 850.68 L 324.04 853.21 L 325.31 851.52 L 326.58 851.57 L 327.86 852.88 L 329.13 854.78 L 330.41 852.89 L 331.68 855.92 L 332.95 852.73 L 334.23 854.65 L 335.5 852.65 L 336.77 855.16 L 338.05 853.04 L 339.32 855.05 L 340.6 852.98 L 341.87 856.02 L 343.14 853.98 L 344.42 855.68 L 345.69 854.17 L 346.96 856.08 L 348.24 854.16 L 349.51 855.99 L 350.79 854.34 L 352.06 855.54 L 353.33 854.82 L 354.61 855.72 L 355.88 854.31 L 357.15 855.42 L 358.43 854.51 L 359.7 856.07 L 360.98 855.24 L 362.25 857.26 L 363.52 855.85 L 364.8 857.2 L 366.07 855.25 L 367.34 856.95 L 368.62 855.84 L 369.89 857.23 L 371.17 856.11 L 372.44 857.06 L 373.71 856.23 L 374.99 857.22 L 376.26 856.62 L 377.54 857.46 L 378.81 856.59 L 380.08 857.36 L 381.36 855.62 L 382.63 857 L 383.9 855.74 L 385.18 855.73 L 386.45 854.96 L 389 855.61 L 390.27 858.07 L 391.55 855.85 L 392.82 854.08 L 394.09 854.54 L 395.37 855.91 L 396.64 856.16 L 397.92 856.91 L 399.19 856.29 L 400.46 857.59 L 401.74 855.54 L 403.01 855.91 L 404.28 855.67 L 405.56 855.31 L 406.83 855.8 L 408.11 856.9 L 409.38 857.43 L 410.65 857.01 L 411.93 856.97 L 413.2 857.55 L 414.47 857.46 L 415.75 857.55 L 417.02 857.21 L 418.3 857.04 L 419.57 857.14 L 420.84 857.68 L 422.12 856.09 L 423.39 856.65 L 424.67 855.69 L 425.94 856.07 L 428.49 854.43 L 429.76 854.92 L 431.03 856.99 L 432.31 854.68 L 433.58 856.39 L 434.86 855.14 L 436.13 856.8 L 438.68 858.27 L 439.95 857.77 L 441.22 855.65 L 442.5 857.82 L 443.77 858.08 L 445.05 857.29 L 446.32 856.69 L 447.59 857.2 L 448.87 857.02 L 450.14 856.37 L 452.69 856.68 L 453.96 855.92 L 455.24 855.68 L 456.51 855.63 L 457.78 856.06 L 459.06 857.32 L 460.33 856.97 L 461.6 857.18 L 462.88 855.81 L 464.15 856.15 L 465.43 855.64 L 466.7 856.03 L 467.97 856.18 L 469.25 855.65 L 470.52 855.47 L 471.79 856.82 L 473.07 855.73 L 474.34 856.57 L 475.62 856.41 L 476.89 857.49 L 478.16 858.01 L 479.44 858.06 L 480.71 857.44 L 481.99 857.69 L 483.26 857.18 L 484.53 856.82 L 485.81 855.77 L 487.08 856.1 L 488.35 856.65 L 489.63 857.85 L 490.9 857.97 L 492.18 857.65 L 493.45 855.25 L 494.72 855.19 L 496 854.89 L 497.27 855.63 L 498.54 855.99 L 499.82 856.99 L 501.09 857.41 L 502.37 856.5 L 503.64 855.73 L 504.91 856.69 L 506.19 857.08 L 507.46 858.12 L 508.73 856.01 L 510.01 857.36 L 511.28 856.16 L 512.56 856.86 L 513.83 856.06 L 515.1 857.81 L 516.38 857.18 L 517.65 855.74 L 518.92 856.65 L 520.2 856.65 L 521.47 856.87 L 522.75 856.81 L 524.02 857.07 L 526.57 855.85 L 527.84 857.36 L 530.39 858.8 L 531.66 857.67 L 534.21 856.25 L 535.48 857.21 L 536.76 857.31 L 538.03 857.6 L 539.31 855.66 L 540.58 856.14 L 541.85 855.39 L 543.13 857.08 L 544.4 857.15 L 545.67 857.36 L 546.95 857.93 L 548.22 857.22 L 549.5 858.11 L 550.77 857.69 L 552.04 856.73 L 553.32 856.54 L 554.59 856.74 L 555.86 857.92 L 557.14 858.2 L 558.41 858.17 L 559.69 856.13 L 562.23 856.13 L 563.51 856.46 L 564.78 856.11 L 566.05 855.9 L 567.33 855.13 L 568.6 856.14 L 571.15 857.83 L 572.42 858.25 L 573.7 857.81 L 574.97 856.65 L 576.25 856.24 L 577.52 856.02 L 578.79 856.42 L 580.07 856.43 L 581.34 856 L 582.61 856.25 L 583.89 856.22 L 585.16 856.07 L 586.44 854.97 L 587.71 854.74 L 588.98 856.44 L 590.26 856.47 L 591.53 856.09 L 592.8 856 L 594.08 856.69 L 595.35 856.78 L 597.9 857.78 L 599.17 857.83 L 600.45 857.27 L 601.72 855.96 L 602.99 856.92 L 604.27 856.33 L 605.54 854.27 L 606.82 855.32 L 608.09 856.23 L 609.36 855.83 L 610.64 855.97 L 611.91 856.49 L 614.46 854.24 L 615.73 854.75 L 617.01 856.13 L 618.28 855.02 L 619.55 856 L 620.83 856.76 L 622.1 857.28 L 623.37 855.28 L 624.65 856.21 L 625.92 856.55 L 627.2 857.51 L 628.47 857.14 L 629.74 857.88 L 631.02 858.1 L 632.29 858.05 L 634.84 858.65 L 636.11 858.16 L 637.39 858.43 L 638.66 857.66 L 639.93 858.29 L 641.21 857.64 L 642.48 857.89 L 645.03 857.98 L 646.3 856.99 L 647.58 857.35 L 648.85 856.76 L 650.12 856.93 L 651.4 856.77 L 652.67 857.03 L 653.95 856.01 L 655.22 856.53 L 656.49 857.32 L 657.77 856.28 L 660.31 857.93 L 661.59 857.35 L 662.86 856.45 L 664.14 856.98 L 665.41 857.67 L 666.68 857.05 L 667.96 857.2 L 670.5 858.49 L 671.78 858.27 L 673.05 858.22 L 674.33 857.31 L 675.6 856.87 L 676.87 856.96 L 678.15 858.17 L 680.7 857.98 L 681.97 858.17 L 683.24 858.13 L 684.52 857.25 L 685.79 857.77 L 687.06 858.1 L 688.34 858.26 L 689.61 856.49 L 690.89 858.04 L 692.16 857.71 L 693.43 856.62 L 694.71 855.84 L 695.98 857.32 L 697.25 856.42 L 698.53 857.32 L 699.8 857.77 L 701.08 857.68 L 702.35 855.54 L 703.62 857.76 L 704.9 857.91 L 706.17 858.64 L 707.44 858.04 L 708.72 858.2 L 709.99 856.41 L 711.27 856.32 L 712.54 855.36 L 713.81 857.24 L 715.09 856.47 L 717.63 856.74 L 718.91 857.1 L 720.18 858.03 L 721.46 858.16 L 722.73 857.44 L 724 857.44 L 725.28 856.12 L 726.55 857.32 L 727.83 855.79 L 729.1 856.42 L 730.37 855.48 L 731.65 856.72 L 732.92 856.06 L 734.19 856.53 L 735.47 855.87 L 736.74 856.29 L 738.02 855.69 L 739.29 857.17 L 740.56 857.29 L 741.84 858.02 L 743.11 856.11 L 744.38 855.19 L 745.66 856.94 L 746.93 857.29 L 748.21 856.5 L 749.48 856.7 L 750.75 857.11 L 752.03 856.69 L 753.3 856.9 L 754.57 856.33 L 755.85 856.05 L 757.12 856.36 L 758.4 855.82 L 759.67 855.51 L 760.94 856.32 L 762.22 856.48 L 763.49 855.85 L 764.76 854.87 L 766.04 855.82 L 767.31 856.6 L 768.59 855.41 L 769.86 856.29 L 771.13 856.14 L 772.41 858.17 L 773.68 857.12 L 774.95 857.39 L 776.23 857.19 L 777.5 857.32 L 778.78 858.21 L 780.05 856.72 L 782.6 857.85 L 783.87 857.86 L 785.15 857.69 L 786.42 856.07 L 787.69 857.13 L 788.97 856.38 L 790.24 856.14 L 791.51 856.09 L 792.79 857.65 L 794.06 856.74 L 795.34 856.8 L 796.61 856.15 L 797.88 857.62 L 799.16 857.3 L 800.43 858.4 L 801.7 857.22 L 802.98 856.87 L 804.25 855.74 L 805.53 857.75 L 806.8 857.01 L 808.07 857.61 L 809.35 856.53 L 810.62 857.39 L 811.89 857.64 L 813.17 857.5 L 814.44 857.08 L 815.72 857.03 L 816.99 857.2 L 818.26 857.04 L 819.54 856.43 L 820.81 856.33 L 822.08 857.23 L 823.36 856.17 L 824.63 856.9 L 825.91 857.46 L 827.18 858.43 L 828.45 857.97 L 831 856.63 L 832.28 856.24 L 833.55 857.05 L 834.82 856.96 L 836.1 856.29 L 837.37 854.94 L 838.64 855.32 L 839.92 856.21 L 841.19 856.06 L 842.47 854.96 L 843.74 855.75 L 846.29 857.03 L 847.56 856.29 L 850.11 855.51 L 851.38 855.83 L 852.66 857.01 L 853.93 856.63 L 855.2 857.39 L 856.48 857.7 L 857.75 857.85 L 859.02 858.18 L 860.3 857.59 L 861.57 858.74 L 862.85 857.52 L 864.12 857.85 L 865.39 857.73 L 866.67 858.56 L 867.94 857.31 L 869.21 857.07 L 870.49 857.11 L 873.04 858.32 L 874.31 858.3 L 875.58 857.82 L 876.86 858.35 L 878.13 857.02 L 879.41 857.26 L 880.68 857.81 L 881.95 857.39 L 884.5 857.63 L 885.77 856.26 L 887.05 856.47 L 888.32 856.1 L 889.6 856.45 L 890.87 856.25 L 892.14 856.18 L 893.42 856.82 L 894.69 856.77 L 895.96 856.21 L 897.24 857.65 L 898.51 856.82 L 899.79 857.62 L 901.06 857.03 L 902.33 857.77 L 903.61 855.22 L 904.88 856.65 L 906.15 855.51 L 907.43 857.01 L 908.7 856.29 L 909.98 856.78 L 911.25 856.12 L 912.52 856.54 L 913.8 857.13 L 915.07 858.47 L 916.34 857.32 L 917.62 857.2 L 918.89 856.53 L 920.17 857.85 L 921.44 857.16 L 922.71 857.6 L 923.99 858.56 L 925.26 858.18 L 926.53 856.31 L 927.81 856.74 L 929.08 856.26 L 930.36 857.23 L 931.63 853.54 L 932.9 856.8 L 934.18 857.07 L 935.45 857.53 L 936.73 857.37 L 938 858.01 L 939.27 858.29 L 940.55 855.74 L 941.82 856.31 L 943.09 857.48 L 944.37 855.47 L 945.64 858.57 L 946.92 858.05 L 948.19 858.51 L 949.46 858.29 L 952.01 857.3 L 953.28 856.48 L 954.56 858.2 L 955.83 858.48 L 957.11 857.23 L 958.38 856.66 L 959.65 856.29 L 960.93 857.42 L 962.2 857.58 L 963.47 857.43 L 964.75 856.81 L 966.02 857.25 L 967.3 855.61 L 968.57 856.58 L 969.84 857.27 L 971.12 858.59 L 972.39 857.94 L 973.66 857.79 L 974.94 857.05 L 976.21 857.01 L 977.49 856.76 L 978.76 857.75 L 980.03 858.24 L 981.31 856.67 L 982.58 858.43 L 983.86 858.84 L 985.13 857.4 L 986.4 857.18 L 987.68 856.6 L 988.95 858.07 L 990.22 856.66 L 992.77 856.33 L 994.05 857.27 L 995.32 856.37 L 996.59 857.09 L 997.87 856.68 L 999.14 855.8 L 1000.41 855.4 L 1001.69 855.83 L 1002.96 854.7 L 1004.24 855.73 L 1005.51 855.81 L 1006.78 857.29 L 1008.06 857.34 L 1009.33 857.8 L 1010.6 857.64 L 1011.88 857.1 L 1013.15 856.44 L 1014.43 857.42 L 1015.7 857.75 L 1016.97 855.64 L 1018.25 857.43 L 1019.52 857.07 L 1020.79 857.12 L 1022.07 858.21 L 1023.34 857.87 L 1024.62 857.93 L 1025.89 857.24 L 1027.16 857.59 L 1028.44 857.37 L 1029.71 857.76 L 1030.99 856.54 L 1032.26 857.27 L 1033.53 856.77 L 1034.81 856.84 L 1036.08 856.07 L 1037.35 856.73 L 1038.63 856.83 L 1039.9 855.64 L 1041.18 856.81 L 1042.45 857.31 L 1043.72 856.37 L 1047.54 856.89 L 1048.82 856.59 L 1050.09 856.42 L 1051.37 855.32 L 1052.64 855.17 L 1053.91 855.16 L 1055.19 855.63 L 1056.46 855.57 L 1059.01 856.07 L 1060.28 855.89 L 1061.56 856.76 L 1062.83 857.45 L 1064.1 856.8 L 1066.65 856.89 L 1067.92 856.97 L 1069.2 855.96 L 1070.47 855.95 L 1071.75 856.07 L 1073.02 855.08 L 1074.29 854.61 L 1075.57 855.33 L 1076.84 855.02 L 1078.11 856.73 L 1079.39 856.26 L 1080.66 857.05 L 1081.94 857.57 L 1083.21 857.34 L 1084.48 855.97 L 1085.76 857.36 L 1087.03 855.07 L 1088.31 857.04 L 1089.58 856.02 L 1090.85 856.88 L 1093.4 856.49 L 1094.67 856.66 L 1095.95 856.61 L 1098.5 856.99 L 1099.77 857.63 L 1101.04 857.9 L 1102.32 857.32 L 1103.59 857.39 L 1104.86 857.26 L 1106.14 858.03 L 1107.41 858.23 L 1108.69 857.37 L 1109.96 854.69 L 1111.23 855.72 L 1112.51 855.32 L 1113.78 856.38 L 1115.05 856.6 L 1116.33 858.18 L 1117.6 857.67 L 1118.88 858.18 L 1120.15 857.18 L 1121.42 857.96 L 1122.7 858.18 L 1123.97 857.91 L 1125.24 857.32 L 1126.52 854.12 L 1127.79 855.31 L 1130.34 858.18 L 1131.61 857.93 L 1132.89 856.5 L 1134.16 856.42 L 1135.44 855.7 L 1136.71 856.38 L 1137.98 855.91 L 1139.26 856.2 L 1140.53 855.63 L 1141.8 855.47 L 1143.08 855.53 L 1144.35 856.11 L 1145.63 855.35 L 1146.9 856.49 L 1148.17 856.78 L 1149.45 857.84 L 1150.72 855.99 L 1151.99 856.59 L 1153.27 856.11 L 1154.54 857.83 L 1155.82 856.87 L 1157.09 857.61 L 1158.36 857.07 L 1159.64 857.84 L 1160.91 857.22 L 1162.18 856.76 L 1163.46 855.35 L 1164.73 856.79 L 1166.01 856.32 L 1167.28 857.39 L 1168.55 856.46 L 1169.83 856.61 L 1171.1 855.33 L 1172.37 855.75 L 1173.65 857 L 1174.92 857.24 L 1176.2 856.83 L 1177.47 857.4 L 1178.74 857.57 L 1181.29 857.21 L 1182.56 857.88 L 1183.84 857.88 L 1185.11 857.05 L 1187.66 856.49 L 1188.93 856.41 L 1190.21 856.67 L 1191.48 854.6 L 1192.76 855.36 L 1194.03 854.95 L 1195.3 856.55 L 1196.58 857.07 L 1197.85 857.94 L 1199.12 856.16 L 1200.4 856.8 L 1201.67 856.82 L 1202.95 857.26 L 1204.22 856.94 L 1205.49 857.44 L 1206.77 857.59 L 1208.04 856.86 L 1209.31 855.01 L 1210.59 857.41 L 1211.86 856.68 L 1213.14 858.32 L 1214.41 857.4 L 1215.68 857.89 L 1216.96 857.03 L 1218.23 855.89 L 1219.5 855.77 L 1220.78 856.36 L 1220.78 856.36" clip-path="url(#p567b58b1b1)" style="fill: none; stroke: #d62728; stroke-width: 2.083333; stroke-linecap: square"/>
</g>
<g id="line2d_67">
<path d="M 203.03 780.45 L 204.3 785.78 L 205.57 780.48 L 206.85 786.05 L 208.12 781 L 209.4 785.91 L 210.67 781.79 L 211.94 785.76 L 213.22 780.44 L 214.49 785.76 L 215.76 781.65 L 217.04 785.97 L 218.31 782.08 L 219.59 785.94 L 220.86 784.29 L 222.13 785.93 L 223.41 784.42 L 224.68 785.99 L 225.96 784.04 L 227.23 786.16 L 228.5 783.22 L 229.78 786.03 L 231.05 782.76 L 232.32 786.01 L 233.6 783.41 L 234.87 786.09 L 236.15 783.16 L 237.42 785.95 L 238.69 781.97 L 239.97 785.74 L 241.24 782.46 L 242.51 786.09 L 243.79 782.68 L 245.06 785.95 L 246.34 780.34 L 247.61 785.86 L 248.88 779.14 L 250.16 785.98 L 251.43 779.85 L 252.7 785.77 L 253.98 781.33 L 255.25 785.73 L 256.53 781.9 L 257.8 785.89 L 259.07 781.33 L 260.35 785.9 L 261.62 779.75 L 262.89 785.86 L 264.17 784.4 L 265.44 785.9 L 266.72 781.6 L 267.99 785.98 L 269.26 778.54 L 270.54 786.01 L 271.81 780.5 L 273.09 785.8 L 274.36 783.25 L 275.63 785.92 L 276.91 780.52 L 278.18 783.36 L 279.45 780.82 L 280.73 784.65 L 282 782.27 L 283.28 784.73 L 284.55 782.24 L 285.82 784.64 L 287.1 781.5 L 288.37 785.37 L 289.64 783.71 L 290.92 785.46 L 292.19 781.56 L 293.47 784.07 L 294.74 781.64 L 296.01 783.62 L 297.29 781.36 L 298.56 784.08 L 299.83 782 L 301.11 784.51 L 302.38 783.01 L 303.66 785.79 L 304.93 783.88 L 306.2 785.78 L 307.48 782.3 L 308.75 784.76 L 310.02 782.22 L 311.3 784.76 L 312.57 782.19 L 313.85 784.88 L 315.12 782.48 L 316.39 785.04 L 317.67 783.15 L 318.94 784.91 L 320.22 781.92 L 321.49 784.51 L 322.76 782.46 L 324.04 784.3 L 325.31 781.54 L 326.58 783.62 L 327.86 783.44 L 329.13 785.65 L 330.41 784.02 L 331.68 784.93 L 332.95 782.53 L 334.23 785.21 L 335.5 783.8 L 336.77 785.21 L 338.05 781.77 L 339.32 782.73 L 340.6 781.03 L 341.87 783.51 L 343.14 783.2 L 344.42 783.19 L 345.69 782.73 L 346.96 782.85 L 348.24 781.82 L 349.51 783.3 L 350.79 782.73 L 352.06 784.45 L 353.33 784.02 L 354.61 784.52 L 355.88 783.15 L 357.15 784.19 L 358.43 782.67 L 359.7 784.25 L 360.98 782.57 L 362.25 783.97 L 363.52 783.51 L 364.8 784.42 L 366.07 782.92 L 367.34 784.23 L 368.62 783.36 L 369.89 784.9 L 371.17 783.52 L 372.44 784.45 L 373.71 783.87 L 374.99 784.68 L 376.26 784.24 L 377.54 784.95 L 378.81 783.95 L 380.08 784.54 L 381.36 783.06 L 382.63 784.2 L 383.9 782.93 L 385.18 782.96 L 386.45 782.04 L 387.73 782.76 L 389 782.75 L 390.27 785.14 L 391.55 783.06 L 392.82 781.34 L 394.09 781.73 L 395.37 783.03 L 396.64 783.29 L 397.92 784.02 L 399.19 783.3 L 400.46 784.7 L 401.74 782.6 L 403.01 783.01 L 405.56 782.37 L 406.83 782.71 L 408.11 784 L 409.38 784.46 L 410.65 784.01 L 411.93 783.98 L 413.2 784.4 L 415.75 784.53 L 417.02 784.16 L 418.3 783.98 L 419.57 784.13 L 420.84 784.56 L 422.12 783.14 L 423.39 783.57 L 424.67 782.37 L 425.94 782.89 L 427.21 782.04 L 428.49 781.51 L 429.76 781.6 L 431.03 783.59 L 432.31 781.62 L 433.58 783.1 L 434.86 781.86 L 436.13 783.57 L 438.68 784.94 L 439.95 784.25 L 441.22 782.43 L 442.5 784.65 L 443.77 785.01 L 445.05 784.06 L 446.32 783.38 L 447.59 783.8 L 448.87 783.82 L 450.14 783.17 L 451.41 783.16 L 452.69 783.3 L 453.96 782.55 L 455.24 782.37 L 456.51 782.08 L 457.78 782.79 L 459.06 783.78 L 460.33 783.45 L 461.6 783.78 L 462.88 782.49 L 464.15 782.79 L 465.43 782.43 L 466.7 782.42 L 467.97 782.7 L 469.25 782.25 L 470.52 781.97 L 471.79 783.39 L 473.07 782.24 L 474.34 782.88 L 475.62 782.52 L 476.89 783.8 L 478.16 784.54 L 479.44 784.36 L 480.71 783.88 L 481.99 784.15 L 483.26 783.49 L 484.53 783.29 L 485.81 782.02 L 487.08 782.59 L 488.35 783.03 L 489.63 784.06 L 490.9 784.14 L 492.18 783.99 L 493.45 781.74 L 494.72 781.76 L 496 781.33 L 497.27 782.08 L 498.54 782.48 L 499.82 783.38 L 501.09 783.97 L 502.37 782.92 L 503.64 782.08 L 504.91 783.46 L 506.19 783.58 L 507.46 784.51 L 508.73 782.5 L 510.01 783.54 L 511.28 782.42 L 512.56 783.46 L 513.83 782.53 L 515.1 783.94 L 516.38 783.29 L 517.65 782.11 L 518.92 782.86 L 520.2 783.17 L 521.47 783.02 L 522.75 783.34 L 524.02 783.3 L 525.29 782.61 L 526.57 782.24 L 527.84 783.57 L 530.39 785.01 L 531.66 783.91 L 534.21 782.64 L 535.48 783.26 L 536.76 783.48 L 538.03 783.85 L 539.31 782.13 L 540.58 782.63 L 541.85 781.88 L 543.13 783.35 L 544.4 783.65 L 545.67 783.72 L 546.95 784.15 L 548.22 783.56 L 549.5 784.43 L 550.77 783.92 L 552.04 783 L 553.32 782.72 L 554.59 783.23 L 555.86 784.34 L 557.14 784.57 L 558.41 784.51 L 559.69 782.43 L 562.23 782.59 L 563.51 782.62 L 566.05 782.28 L 567.33 781.37 L 568.6 782.5 L 569.88 783.3 L 571.15 784.32 L 572.42 784.66 L 573.7 784.14 L 574.97 782.93 L 576.25 782.72 L 577.52 782.24 L 578.79 782.91 L 581.34 782.38 L 583.89 782.59 L 585.16 782.45 L 586.44 781.66 L 587.71 781.32 L 588.98 782.68 L 590.26 782.81 L 591.53 782.47 L 592.8 782.32 L 594.08 783.14 L 595.35 783.2 L 599.17 784.35 L 600.45 783.63 L 601.72 782.43 L 602.99 783.37 L 604.27 782.67 L 605.54 780.44 L 606.82 781.73 L 608.09 782.58 L 609.36 782.14 L 610.64 782.36 L 611.91 782.98 L 613.18 781.77 L 614.46 780.85 L 615.73 781.24 L 617.01 782.29 L 618.28 781.36 L 619.55 782.52 L 620.83 782.89 L 622.1 783.5 L 623.37 781.69 L 624.65 782.55 L 625.92 783.05 L 627.2 783.74 L 628.47 783.7 L 629.74 784.14 L 631.02 784.37 L 632.29 784.46 L 633.57 784.66 L 634.84 785.01 L 636.11 784.66 L 637.39 785.01 L 638.66 784.23 L 639.93 784.61 L 641.21 784.05 L 643.76 784.41 L 645.03 784.14 L 646.3 783.29 L 647.58 783.68 L 648.85 783.11 L 650.12 783.41 L 651.4 783.02 L 652.67 783.27 L 653.95 782.27 L 656.49 783.54 L 657.77 782.67 L 659.04 783.53 L 660.31 784.08 L 661.59 783.42 L 662.86 782.99 L 665.41 783.81 L 666.68 783.49 L 667.96 783.41 L 669.23 784.39 L 671.78 784.66 L 673.05 784.64 L 674.33 783.67 L 675.6 783.36 L 676.87 783.31 L 678.15 784.41 L 679.42 784.52 L 680.7 784.23 L 681.97 784.66 L 683.24 784.61 L 684.52 783.75 L 685.79 784.4 L 688.34 784.77 L 689.61 782.93 L 690.89 784.53 L 692.16 784.23 L 693.43 783 L 694.71 782.36 L 695.98 783.68 L 697.25 782.54 L 698.53 783.61 L 699.8 784.3 L 701.08 784.07 L 702.35 781.8 L 703.62 783.95 L 704.9 784.27 L 706.17 785 L 707.44 784.53 L 708.72 784.5 L 709.99 782.85 L 711.27 782.52 L 712.54 781.72 L 713.81 783.9 L 715.09 782.78 L 717.63 783.15 L 718.91 783.42 L 720.18 784.26 L 721.46 784.5 L 722.73 783.85 L 724 783.73 L 725.28 782.7 L 726.55 783.63 L 727.83 782.19 L 729.1 782.79 L 730.37 781.88 L 731.65 782.85 L 732.92 782.53 L 734.19 782.85 L 735.47 782.31 L 736.74 782.61 L 738.02 782.04 L 739.29 783.57 L 740.56 783.81 L 741.84 784.37 L 743.11 782.53 L 744.38 781.62 L 745.66 783.03 L 746.93 783.54 L 748.21 782.77 L 749.48 782.97 L 750.75 783.35 L 752.03 783.16 L 753.3 783.23 L 754.57 782.73 L 755.85 782.41 L 757.12 782.72 L 758.4 782.14 L 759.67 782.04 L 760.94 782.77 L 762.22 783.04 L 764.76 781.33 L 767.31 782.99 L 768.59 781.78 L 769.86 782.48 L 771.13 782.33 L 772.41 784.46 L 773.68 783.38 L 774.95 783.8 L 776.23 783.61 L 777.5 783.74 L 778.78 784.51 L 780.05 783.14 L 781.32 783.83 L 782.6 784.28 L 785.15 784.31 L 786.42 782.34 L 787.69 783.34 L 788.97 782.62 L 790.24 782.64 L 791.51 782.44 L 792.79 783.83 L 794.06 782.88 L 795.34 783.17 L 796.61 782.41 L 797.88 783.76 L 799.16 783.83 L 800.43 784.81 L 801.7 783.75 L 802.98 783.22 L 804.25 782.19 L 805.53 784.08 L 806.8 783.54 L 808.07 783.89 L 809.35 782.98 L 810.62 783.74 L 813.17 783.97 L 814.44 783.45 L 815.72 783.31 L 816.99 783.52 L 818.26 783.54 L 819.54 782.91 L 820.81 782.62 L 822.08 783.35 L 823.36 782.66 L 824.63 783.46 L 825.91 783.81 L 827.18 784.67 L 828.45 784.32 L 831 783.03 L 832.28 782.51 L 833.55 783.56 L 834.82 783.42 L 836.1 782.58 L 837.37 781.41 L 838.64 781.72 L 839.92 782.66 L 841.19 782.46 L 842.47 781.28 L 843.74 782.15 L 845.01 782.63 L 846.29 783.35 L 847.56 782.56 L 850.11 781.87 L 851.38 782.13 L 852.66 783.2 L 853.93 783.05 L 855.2 783.73 L 856.48 784.18 L 857.75 784.18 L 859.02 784.56 L 860.3 784.03 L 861.57 785 L 862.85 784.06 L 864.12 784.39 L 865.39 784.21 L 866.67 784.91 L 867.94 783.85 L 869.21 783.49 L 870.49 783.65 L 873.04 784.57 L 874.31 784.52 L 875.58 784.14 L 876.86 784.85 L 878.13 783.28 L 880.68 784.1 L 883.23 783.86 L 884.5 784.02 L 885.77 782.86 L 887.05 782.86 L 888.32 782.5 L 889.6 782.75 L 890.87 782.71 L 892.14 782.53 L 893.42 783.12 L 894.69 783.26 L 895.96 782.45 L 897.24 783.83 L 898.51 783.12 L 899.79 783.82 L 901.06 783.43 L 902.33 784.14 L 903.61 781.52 L 904.88 782.91 L 906.15 781.8 L 907.43 783.45 L 908.7 782.39 L 909.98 783.18 L 911.25 782.5 L 912.52 782.9 L 913.8 783.53 L 915.07 784.61 L 916.34 783.82 L 917.62 783.52 L 918.89 782.99 L 920.17 784.04 L 921.44 783.56 L 922.71 784 L 923.99 784.67 L 925.26 784.53 L 926.53 782.68 L 927.81 782.99 L 929.08 782.68 L 930.36 783.7 L 931.63 779.77 L 932.9 783.09 L 935.45 783.74 L 936.73 783.73 L 938 784.49 L 939.27 784.63 L 940.55 782.19 L 941.82 782.72 L 943.09 783.89 L 944.37 781.64 L 945.64 784.77 L 946.92 784.29 L 948.19 784.78 L 949.46 784.68 L 950.74 784.35 L 952.01 783.74 L 953.28 782.93 L 954.56 784.46 L 955.83 784.73 L 957.11 783.44 L 958.38 783.13 L 959.65 782.65 L 960.93 783.75 L 962.2 783.83 L 963.47 783.73 L 964.75 783.28 L 966.02 783.61 L 967.3 782.1 L 968.57 782.97 L 969.84 783.58 L 971.12 784.84 L 972.39 784.25 L 973.66 784.3 L 974.94 783.61 L 977.49 783.15 L 978.76 783.99 L 980.03 784.68 L 981.31 782.78 L 982.58 784.68 L 983.86 784.99 L 985.13 783.97 L 987.68 783.05 L 988.95 784.37 L 990.22 782.86 L 991.5 783 L 992.77 782.87 L 994.05 783.7 L 995.32 782.72 L 996.59 783.5 L 997.87 783.06 L 999.14 782.18 L 1000.41 781.61 L 1001.69 782.14 L 1002.96 781 L 1004.24 782.14 L 1005.51 782.29 L 1006.78 783.61 L 1008.06 783.84 L 1009.33 783.84 L 1010.6 784.03 L 1011.88 783.34 L 1013.15 782.96 L 1014.43 783.88 L 1015.7 784.25 L 1016.97 782.04 L 1018.25 783.96 L 1019.52 783.61 L 1020.79 783.41 L 1022.07 784.7 L 1023.34 784.17 L 1024.62 784.12 L 1025.89 783.64 L 1027.16 784.09 L 1028.44 783.72 L 1029.71 784.07 L 1030.99 783.01 L 1032.26 783.56 L 1033.53 783.31 L 1034.81 783.26 L 1036.08 782.4 L 1037.35 783 L 1038.63 783.26 L 1039.9 782.2 L 1041.18 783.09 L 1042.45 783.6 L 1043.72 782.57 L 1046.27 783.32 L 1050.09 782.7 L 1051.37 781.68 L 1052.64 781.46 L 1053.91 781.48 L 1055.19 781.96 L 1056.46 781.95 L 1059.01 782.53 L 1060.28 782.02 L 1061.56 783.3 L 1062.83 783.81 L 1064.1 783.34 L 1065.38 783.01 L 1067.92 783.41 L 1069.2 782.49 L 1070.47 782.18 L 1071.75 782.52 L 1073.02 781.59 L 1074.29 780.98 L 1075.57 781.73 L 1076.84 781.3 L 1078.11 783.2 L 1079.39 782.5 L 1080.66 783.49 L 1081.94 783.94 L 1083.21 783.74 L 1084.48 782.29 L 1085.76 783.37 L 1087.03 781.56 L 1088.31 783.43 L 1089.58 782.43 L 1090.85 783.23 L 1092.13 783.08 L 1093.4 782.76 L 1094.67 783.04 L 1095.95 783.16 L 1097.22 783.05 L 1098.5 783.14 L 1099.77 784.2 L 1101.04 784.19 L 1102.32 783.75 L 1104.86 783.71 L 1106.14 784.44 L 1107.41 784.62 L 1108.69 783.67 L 1109.96 780.94 L 1111.23 782.11 L 1112.51 781.89 L 1113.78 782.58 L 1115.05 782.95 L 1116.33 784.61 L 1117.6 783.89 L 1118.88 784.56 L 1120.15 783.57 L 1121.42 784.44 L 1122.7 784.68 L 1125.24 783.74 L 1126.52 780.55 L 1127.79 781.71 L 1130.34 784.32 L 1131.61 784.35 L 1132.89 782.7 L 1134.16 782.67 L 1135.44 782.15 L 1136.71 782.77 L 1137.98 782.26 L 1139.26 782.48 L 1140.53 781.91 L 1141.8 781.78 L 1143.08 782.06 L 1144.35 782.59 L 1145.63 781.68 L 1146.9 783.01 L 1148.17 783.21 L 1149.45 784.09 L 1150.72 782.4 L 1151.99 783.01 L 1153.27 782.5 L 1154.54 784.06 L 1155.82 783.17 L 1157.09 783.69 L 1158.36 783.34 L 1159.64 784.23 L 1160.91 783.41 L 1162.18 782.97 L 1163.46 781.86 L 1164.73 783 L 1166.01 782.76 L 1167.28 783.72 L 1168.55 782.95 L 1169.83 782.89 L 1171.1 781.81 L 1172.37 782.24 L 1173.65 783.37 L 1174.92 783.37 L 1176.2 782.99 L 1177.47 783.72 L 1178.74 784.02 L 1180.02 783.95 L 1181.29 783.61 L 1182.56 784.36 L 1183.84 784.23 L 1185.11 783.45 L 1186.39 783.08 L 1187.66 782.91 L 1188.93 782.58 L 1190.21 783.01 L 1191.48 781.11 L 1192.76 781.87 L 1194.03 781.33 L 1195.3 783.04 L 1197.85 784.28 L 1199.12 782.47 L 1200.4 783.28 L 1201.67 783.23 L 1202.95 783.64 L 1204.22 783.37 L 1205.49 783.84 L 1206.77 783.93 L 1208.04 783.29 L 1209.31 781.36 L 1210.59 783.85 L 1211.86 782.98 L 1213.14 784.71 L 1214.41 783.79 L 1215.68 784.28 L 1216.96 783.51 L 1218.23 782.31 L 1219.5 782.32 L 1220.78 782.6 L 1220.78 782.6" clip-path="url(#p567b58b1b1)" style="fill: none; stroke: #9467bd; stroke-width: 2.083333; stroke-linecap: square"/>
</g>
<g id="line2d_68">
<path d="M 203.03 786.15 L 204.3 786.22 L 206.85 786.1 L 208.12 786.26 L 210.67 786.13 L 213.22 786.13 L 231.05 786.1 L 233.6 786.16 L 236.15 786.17 L 241.24 786.05 L 243.79 786.21 L 262.89 786.12 L 266.72 786.13 L 267.99 786.07 L 269.26 786.14 L 271.81 786.09 L 273.09 786.15 L 274.36 786.03 L 280.73 786.15 L 290.92 786.04 L 292.19 786.12 L 293.47 786.05 L 297.29 786.18 L 301.11 786.12 L 307.48 786.21 L 308.75 786.09 L 354.61 786.14 L 355.88 786.25 L 358.43 786.15 L 362.25 786.11 L 363.52 786.22 L 366.07 786.15 L 368.62 786.15 L 369.89 786.23 L 372.44 786.16 L 373.71 786.23 L 376.26 786.16 L 377.54 786.1 L 381.36 786.15 L 385.18 786.19 L 386.45 786.24 L 387.73 786.02 L 390.27 786.14 L 391.55 786.04 L 392.82 786.19 L 403.01 786.12 L 404.28 786.22 L 405.56 786.15 L 408.11 786.15 L 423.39 786.13 L 425.94 786.19 L 445.05 786.07 L 446.32 786.23 L 448.87 786.16 L 450.14 786.23 L 452.69 786.12 L 460.33 786.13 L 470.52 786.15 L 475.62 786.22 L 476.89 786.05 L 480.71 786.13 L 530.39 786.23 L 531.66 786 L 532.94 786.16 L 546.95 786.15 L 548.22 786.23 L 554.59 786.07 L 557.14 786.11 L 567.33 786.19 L 569.88 786.1 L 572.42 786.05 L 574.97 786.23 L 577.52 786.13 L 578.79 786.27 L 581.34 786.11 L 583.89 786.15 L 585.16 786.19 L 587.71 786.06 L 588.98 786.19 L 610.64 786.03 L 611.91 786.18 L 615.73 786.1 L 618.28 786.21 L 620.83 786.17 L 624.65 786.11 L 627.2 786.17 L 631.02 786.14 L 638.66 786.15 L 643.76 786.17 L 645.03 786.09 L 647.58 786.15 L 648.85 786.1 L 650.12 786.2 L 651.4 786.1 L 652.67 786.18 L 653.95 786.11 L 657.77 786.23 L 660.31 786.12 L 661.59 786.21 L 662.86 786.06 L 665.41 786.2 L 666.68 786.06 L 667.96 786.16 L 669.23 786.08 L 670.5 786.27 L 671.78 786.05 L 674.33 786.14 L 680.7 786.13 L 683.24 786.2 L 685.79 786.11 L 689.61 786.17 L 692.16 786.08 L 694.71 786.18 L 695.98 786.03 L 697.25 786.22 L 699.8 786.15 L 701.08 786.09 L 704.9 786.2 L 707.44 786.15 L 712.54 786.21 L 716.36 786.15 L 717.63 786.2 L 718.91 786.07 L 720.18 786.22 L 721.46 786.11 L 732.92 786.17 L 734.19 786.09 L 736.74 786.17 L 743.11 786.02 L 745.66 786.14 L 749.48 786.2 L 752.03 786.13 L 763.49 786.15 L 764.76 786.09 L 766.04 786.15 L 768.59 786.13 L 780.05 786.2 L 782.6 786.13 L 785.15 786.05 L 788.97 786.12 L 796.61 786.14 L 819.54 786.16 L 820.81 786.22 L 823.36 786.11 L 828.45 786.19 L 832.28 786.16 L 834.82 786.15 L 838.64 786.09 L 845.01 786.2 L 846.29 786.11 L 848.83 786.21 L 856.48 786.12 L 857.75 786.24 L 860.3 786.13 L 862.85 786.14 L 865.39 786.1 L 876.86 786.09 L 878.13 786.25 L 879.41 786.08 L 880.68 786.18 L 881.95 786.07 L 884.5 786.14 L 885.77 786.08 L 887.05 786.16 L 888.32 786.05 L 889.6 786.19 L 901.06 786.1 L 904.88 786.19 L 906.15 786.11 L 909.98 786.18 L 913.8 786.16 L 917.62 786.25 L 920.17 786.1 L 923.99 786.14 L 930.36 786.1 L 931.63 786.24 L 935.45 786.19 L 939.27 786.16 L 941.82 786.09 L 944.37 786.17 L 946.92 786.18 L 958.38 786.17 L 960.93 786.16 L 964.75 786.09 L 967.3 786.14 L 994.05 786.11 L 995.32 786.22 L 1032.26 786.2 L 1033.53 786.24 L 1034.81 786.13 L 1036.08 786.22 L 1041.18 786.16 L 1045 786.14 L 1046.27 786.06 L 1047.54 786.19 L 1052.64 786.14 L 1062.83 786.23 L 1064.1 786.1 L 1065.38 786.22 L 1067.92 786.14 L 1070.47 786.17 L 1073.02 786.04 L 1078.11 786.18 L 1080.66 786.11 L 1084.48 786.09 L 1087.03 786.18 L 1094.67 786.14 L 1097.22 786.14 L 1098.5 786.27 L 1099.77 786.15 L 1107.41 786.13 L 1111.23 786.13 L 1130.34 786.14 L 1131.61 786.1 L 1134.16 786.21 L 1135.44 786.1 L 1136.71 786.18 L 1137.98 786.12 L 1140.53 786.2 L 1141.8 786.08 L 1144.35 786.21 L 1148.17 786.16 L 1155.82 786.14 L 1158.36 786.23 L 1159.64 786.08 L 1160.91 786.2 L 1166.01 786.15 L 1168.55 786.15 L 1171.1 786.04 L 1172.37 786.16 L 1173.65 786.12 L 1174.92 786.22 L 1177.47 786.12 L 1178.74 786.16 L 1180.02 786.07 L 1185.11 786.17 L 1187.66 786.17 L 1190.21 786.17 L 1191.48 786.08 L 1195.3 786.14 L 1196.58 786.08 L 1197.85 786.27 L 1201.67 786.1 L 1206.77 786.17 L 1216.96 786.14 L 1218.23 786.17 L 1219.5 786.04 L 1220.78 786.21 L 1220.78 786.21" clip-path="url(#p567b58b1b1)" style="fill: none; stroke: #8c564b; stroke-width: 2.083333; stroke-linecap: square"/>
</g>
<g id="line2d_69">
<path d="M 203.03 786.51 L 275.63 786.51 L 276.91 821.82 L 278.18 834.09 L 279.45 827.13 L 280.73 833.25 L 282 822.99 L 283.28 834.28 L 284.55 831.72 L 285.82 843.6 L 287.1 831.97 L 288.37 843.94 L 289.64 835.9 L 290.92 850.1 L 292.19 836.17 L 293.47 849.7 L 294.74 836.51 L 296.01 850.97 L 297.29 839.09 L 298.56 853.03 L 299.83 839.22 L 301.11 852.94 L 302.38 839.8 L 303.66 855.68 L 304.93 845.05 L 306.2 855.97 L 307.48 845.74 L 308.75 856.19 L 310.02 846.22 L 311.3 855.89 L 312.57 846.43 L 313.85 856.05 L 315.12 846.04 L 316.39 856.96 L 317.67 853.96 L 318.94 856.53 L 320.22 853.76 L 321.49 856.94 L 322.76 853.75 L 324.04 857.05 L 325.31 854.59 L 326.58 857.84 L 327.86 855.94 L 329.13 858.72 L 330.41 855.95 L 331.68 859 L 332.95 855.79 L 334.23 858.73 L 335.5 855.72 L 336.77 857.92 L 338.05 856.1 L 339.32 859.02 L 340.6 856.04 L 341.87 858.87 L 343.14 857.89 L 344.42 860.36 L 345.69 857.88 L 346.96 859.23 L 348.24 857.88 L 349.51 859.62 L 350.79 857.88 L 352.06 859.14 L 353.33 857.87 L 354.61 859.82 L 355.88 857.87 L 357.15 859.8 L 358.43 857.86 L 359.7 859.92 L 360.98 857.86 L 362.25 859.15 L 363.52 857.85 L 364.8 859.05 L 366.07 857.85 L 367.34 860.18 L 368.62 857.84 L 369.89 859.45 L 371.17 857.84 L 372.44 859.68 L 373.71 857.83 L 374.99 859.91 L 376.26 857.83 L 377.54 858.86 L 378.81 857.82 L 380.08 859.49 L 381.36 859.43 L 382.63 859.68 L 383.9 859.73 L 385.18 859.61 L 386.45 859.69 L 387.73 859.56 L 389 859.78 L 391.55 859.78 L 392.82 859.57 L 396.64 859.76 L 397.92 859.75 L 399.19 859.9 L 400.46 859.75 L 401.74 859.87 L 404.28 859.84 L 405.56 859.82 L 406.83 859.91 L 408.11 859.77 L 410.65 859.98 L 411.93 859.86 L 413.2 859.95 L 415.75 859.85 L 417.02 860 L 422.12 859.77 L 424.67 860.14 L 425.94 860.01 L 427.21 860.09 L 428.49 859.78 L 429.76 860.12 L 431.03 860.19 L 432.31 860 L 433.58 860.15 L 438.68 860.18 L 439.95 860.38 L 441.22 860.17 L 443.77 859.98 L 445.05 860.18 L 446.32 860.11 L 447.59 860.29 L 448.87 860.06 L 450.14 859.99 L 451.41 860.2 L 452.69 860.29 L 453.96 860.26 L 455.24 860.11 L 456.51 860.42 L 457.78 860.16 L 459.06 860.41 L 461.6 860.3 L 465.43 860.21 L 466.7 860.49 L 469.25 860.31 L 470.52 860.37 L 471.79 860.29 L 475.62 860.69 L 476.89 860.66 L 478.16 860.38 L 479.44 860.6 L 480.71 860.46 L 481.99 860.43 L 483.26 860.53 L 484.53 860.4 L 485.81 860.58 L 487.08 860.45 L 490.9 860.73 L 493.45 860.34 L 497.27 860.43 L 498.54 860.42 L 499.82 860.54 L 501.09 860.37 L 503.64 860.57 L 504.91 860.1 L 506.19 860.44 L 507.46 860.53 L 508.73 860.43 L 510.01 860.64 L 511.28 860.64 L 512.56 860.31 L 516.38 860.69 L 517.65 860.53 L 518.92 860.63 L 520.2 860.37 L 521.47 860.72 L 522.75 860.38 L 524.02 860.63 L 525.29 860.65 L 526.57 860.51 L 527.84 860.65 L 530.39 860.58 L 531.66 860.78 L 534.21 860.48 L 535.48 860.74 L 541.85 860.36 L 543.13 860.62 L 544.4 860.43 L 546.95 860.66 L 548.22 860.46 L 553.32 860.69 L 554.59 860.46 L 562.23 860.5 L 563.51 860.71 L 564.78 860.51 L 566.05 860.47 L 567.33 860.58 L 574.97 860.51 L 576.25 860.35 L 577.52 860.68 L 578.79 860.26 L 580.07 860.65 L 581.34 860.54 L 582.61 860.61 L 586.44 860.26 L 588.98 860.59 L 591.53 860.5 L 592.8 860.59 L 594.08 860.45 L 597.9 860.59 L 599.17 860.44 L 600.45 860.53 L 601.72 860.39 L 602.99 860.42 L 604.27 860.65 L 605.54 860.75 L 606.82 860.51 L 609.36 860.63 L 610.64 860.6 L 611.91 860.36 L 613.18 860.54 L 614.46 860.31 L 615.73 860.43 L 617.01 860.71 L 618.28 860.47 L 619.55 860.35 L 620.83 860.71 L 624.65 860.58 L 625.92 860.33 L 627.2 860.61 L 628.47 860.33 L 629.74 860.67 L 638.66 860.3 L 639.93 860.53 L 641.21 860.42 L 642.48 860.55 L 643.76 860.36 L 645.03 860.77 L 646.3 860.59 L 650.12 860.34 L 651.4 860.67 L 655.22 860.52 L 656.49 860.62 L 657.77 860.41 L 659.04 860.42 L 660.31 860.75 L 661.59 860.75 L 662.86 860.43 L 664.14 860.47 L 665.41 860.69 L 666.68 860.52 L 667.96 860.65 L 669.23 860.43 L 670.5 860.66 L 675.6 860.4 L 676.87 860.47 L 678.15 860.68 L 679.42 860.49 L 680.7 860.64 L 681.97 860.36 L 685.79 860.27 L 687.06 860.43 L 688.34 860.35 L 693.43 860.48 L 694.71 860.32 L 695.98 860.64 L 697.25 860.69 L 698.53 860.6 L 699.8 860.34 L 701.08 860.55 L 703.62 860.61 L 704.9 860.47 L 706.17 860.52 L 707.44 860.38 L 708.72 860.55 L 709.99 860.42 L 711.27 860.61 L 712.54 860.46 L 713.81 860.18 L 715.09 860.54 L 716.36 860.53 L 717.63 860.41 L 718.91 860.62 L 722.73 860.49 L 724 860.67 L 725.28 860.36 L 726.55 860.5 L 730.37 860.52 L 731.65 860.77 L 732.92 860.38 L 734.19 860.61 L 735.47 860.42 L 738.02 860.54 L 740.56 860.33 L 741.84 860.53 L 743.11 860.58 L 744.38 860.46 L 745.66 860.79 L 746.93 860.61 L 750.75 860.67 L 752.03 860.42 L 753.3 860.55 L 755.85 860.51 L 758.4 860.59 L 759.67 860.37 L 760.94 860.42 L 762.22 860.35 L 763.49 860.53 L 766.04 860.48 L 769.86 860.69 L 777.5 860.47 L 778.78 860.54 L 780.05 860.4 L 782.6 860.45 L 783.87 860.55 L 785.15 860.35 L 786.42 860.65 L 788.97 860.66 L 790.24 860.38 L 794.06 860.77 L 795.34 860.54 L 797.88 860.74 L 799.16 860.4 L 800.43 860.51 L 801.7 860.36 L 802.98 860.52 L 804.25 860.45 L 805.53 860.59 L 806.8 860.45 L 808.07 860.56 L 809.35 860.45 L 813.17 860.51 L 820.81 860.51 L 822.08 860.76 L 823.36 860.43 L 824.63 860.31 L 825.91 860.54 L 827.18 860.61 L 828.45 860.48 L 832.28 860.58 L 833.55 860.32 L 834.82 860.41 L 836.1 860.63 L 837.37 860.4 L 838.64 860.53 L 839.92 860.44 L 846.29 860.59 L 850.11 860.47 L 851.38 860.49 L 852.66 860.69 L 853.93 860.42 L 855.2 860.52 L 856.48 860.42 L 860.3 860.45 L 861.57 860.67 L 862.85 860.34 L 864.12 860.3 L 866.67 860.57 L 867.94 860.44 L 869.21 860.55 L 870.49 860.34 L 871.76 860.56 L 873.04 860.64 L 879.41 860.48 L 880.68 860.55 L 881.95 860.37 L 883.23 860.51 L 884.5 860.49 L 885.77 860.34 L 888.32 860.57 L 889.6 860.54 L 890.87 860.39 L 893.42 860.6 L 894.69 860.38 L 895.96 860.67 L 897.24 860.75 L 898.51 860.62 L 899.79 860.72 L 901.06 860.53 L 903.61 860.54 L 906.15 860.63 L 907.43 860.41 L 908.7 860.73 L 909.98 860.43 L 912.52 860.52 L 913.8 860.46 L 915.07 860.68 L 916.34 860.41 L 917.62 860.46 L 918.89 860.39 L 920.17 860.74 L 921.44 860.49 L 922.71 860.53 L 923.99 860.77 L 925.26 860.55 L 926.53 860.51 L 927.81 860.6 L 930.36 860.45 L 931.63 860.56 L 936.73 860.46 L 938 860.37 L 939.27 860.52 L 943.09 860.42 L 944.37 860.68 L 945.64 860.7 L 950.74 860.36 L 952.01 860.45 L 953.28 860.38 L 954.56 860.56 L 957.11 860.68 L 958.38 860.39 L 963.47 860.63 L 964.75 860.46 L 966.02 860.52 L 967.3 860.4 L 971.12 860.64 L 974.94 860.3 L 976.21 860.6 L 977.49 860.46 L 978.76 860.59 L 980.03 860.49 L 981.31 860.83 L 982.58 860.59 L 983.86 860.71 L 985.13 860.36 L 986.4 860.56 L 987.68 860.47 L 990.22 860.66 L 991.5 860.45 L 992.77 860.4 L 994.05 860.49 L 997.87 860.45 L 1001.69 860.61 L 1002.96 860.6 L 1005.51 860.37 L 1006.78 860.51 L 1008.06 860.41 L 1009.33 860.78 L 1010.6 860.48 L 1011.88 860.64 L 1013.15 860.41 L 1015.7 860.39 L 1018.25 860.39 L 1019.52 860.32 L 1020.79 860.57 L 1022.07 860.34 L 1024.62 860.66 L 1025.89 860.45 L 1028.44 860.47 L 1029.71 860.58 L 1030.99 860.44 L 1032.26 860.53 L 1033.53 860.24 L 1034.81 860.47 L 1038.63 860.44 L 1039.9 860.33 L 1041.18 860.59 L 1042.45 860.55 L 1043.72 860.72 L 1046.27 860.33 L 1047.54 860.64 L 1048.82 860.55 L 1052.64 860.6 L 1053.91 860.55 L 1055.19 860.63 L 1057.73 860.41 L 1059.01 860.43 L 1060.28 860.72 L 1061.56 860.37 L 1062.83 860.43 L 1064.1 860.39 L 1065.38 860.61 L 1067.92 860.44 L 1069.2 860.32 L 1070.47 860.62 L 1071.75 860.48 L 1075.57 860.47 L 1076.84 860.57 L 1078.11 860.37 L 1079.39 860.69 L 1080.66 860.48 L 1081.94 860.57 L 1083.21 860.52 L 1084.48 860.61 L 1085.76 860.84 L 1087.03 860.35 L 1090.85 860.52 L 1095.95 860.36 L 1097.22 860.58 L 1098.5 860.6 L 1099.77 860.31 L 1101.04 860.56 L 1102.32 860.49 L 1103.59 860.53 L 1106.14 860.44 L 1109.96 860.61 L 1112.51 860.31 L 1113.78 860.7 L 1115.05 860.52 L 1116.33 860.46 L 1117.6 860.57 L 1118.88 860.49 L 1120.15 860.52 L 1122.7 860.33 L 1123.97 860.55 L 1126.52 860.46 L 1129.07 860.51 L 1130.34 860.74 L 1131.61 860.5 L 1132.89 860.63 L 1136.71 860.45 L 1139.26 860.56 L 1141.8 860.63 L 1143.08 860.35 L 1144.35 860.32 L 1145.63 860.53 L 1146.9 860.34 L 1149.45 860.63 L 1150.72 860.41 L 1153.27 860.5 L 1154.54 860.67 L 1155.82 860.58 L 1157.09 860.76 L 1158.36 860.52 L 1162.18 860.65 L 1163.46 860.37 L 1164.73 860.68 L 1166.01 860.44 L 1167.28 860.5 L 1168.55 860.38 L 1169.83 860.69 L 1172.37 860.38 L 1174.92 860.67 L 1176.2 860.73 L 1180.02 860.35 L 1181.29 860.51 L 1183.84 860.41 L 1185.11 860.45 L 1186.39 860.61 L 1187.66 860.44 L 1188.93 860.62 L 1191.48 860.43 L 1192.76 860.4 L 1194.03 860.53 L 1196.58 860.35 L 1201.67 860.51 L 1210.59 860.49 L 1211.86 860.62 L 1213.14 860.47 L 1215.68 860.48 L 1218.23 860.43 L 1219.5 860.43 L 1220.78 860.57 L 1220.78 860.57" clip-path="url(#p567b58b1b1)" style="fill: none; stroke: #e377c2; stroke-width: 2.083333; stroke-linecap: square"/>
</g>
<g id="line2d_70">
<path d="M 203 788 L 1221 788 L 1221 788" clip-path="url(#p567b58b1b1)" style="fill: none; stroke: #7f7f7f; stroke-width: 2.083333; stroke-linecap: square"/>
</g>
<g id="patch_15">
<path d="M 152 865 L 152 775" style="fill: none; stroke: #000000; stroke-width: 2.222222; stroke-linejoin: miter; stroke-linecap: square"/>
</g>
<g id="patch_16">
<path d="M 1272 865 L 1272 775" style="fill: none; stroke: #000000; stroke-width: 2.222222; stroke-linejoin: miter; stroke-linecap: square"/>
</g>
<g id="patch_17">
<path d="M 152 865 L 1272 865" style="fill: none; stroke: #000000; stroke-width: 2.222222; stroke-linejoin: miter; stroke-linecap: square"/>
</g>
<g id="patch_18">
<path d="M 152 775 L 1272 775" style="fill: none; stroke: #000000; stroke-width: 2.222222; stroke-linejoin: miter; stroke-linecap: square"/>
</g>
<g id="text_55">
<text x="213.000 234.375 255.625 277.000 298.250 319.500 340.750 362.125 383.500 404.875 426.125 447.500 468.750 490.000 511.250 521.875 533.125 543.750 557.500 577.875 599.000 620.250 640.750 673.375 684.000 695.250 705.875 726.375 743.250 764.500 781.375 793.125 813.625 834.125 855.375 872.250 889.625 910.750 931.125 944.875 954.125 975.250 996.500 1007.125 1028.375 1048.125 1058.750 1073.500 1094.000 1111.375 1124.375 1135.000 1156.250 1169.250 1189.750" y="757.959" style="font-size:33.33px;font-family:'DejaVu Sans',sans-serif">20250722212551 : random : e_9_food_sharing by Test Step</text>
</g>
<g id="legend_3">
<g id="patch_19">
<path d="M 903.5 851.5 L 1252.5 851.5 L 1254.5 851.5 L 1256.5 850.5 L 1257.5 849.5 L 1258.5 847.5 L 1258.5 846.5 L 1258.5 512.5 L 1258.5 511.5 L 1257.5 509.5 L 1256.5 508.5 L 1254.5 507.5 L 1252.5 507.5 L 903.5 507.5 L 902.5 507.5 L 900.5 508.5 L 899.5 509.5 L 898.5 511.5 L 898.5 512.5 L 898.5 846.5 L 898.5 847.5 L 899.5 849.5 L 900.5 850.5 L 902.5 851.5 L 903.5 851.5 z" style="fill: #ffffff; opacity: 0.8; stroke: #cccccc; stroke-width: 2.777778; stroke-linejoin: miter"/>
</g>
<g id="line2d_71">
<path d="M 909 530 L 937 530 L 965 530" style="fill: none; stroke: #1f77b4; stroke-width: 2.083333; stroke-linecap: square"/>
</g>
<g id="text_56">
<text x="987.250 1005.250 1022.250 1045.000 1062.000 1073.000" y="539.888" style="font-size:27.78px;font-family:'DejaVu Sans',sans-serif">Reward</text>
</g>
<g id="line2d_72">
<path d="M 909 572 L 937 572 L 965 572" style="fill: none; stroke: #ff7f0e; stroke-width: 2.083333; stroke-linecap: square"/>
</g>
<g id="text_57">
<text x="987.125 1004.750 1020.000 1036.875 1047.750" y="581.777" style="font-size:27.78px;font-family:'DejaVu Sans',sans-serif">Score</text>
</g>
<g id="line2d_73">
<path d="M 909 614 L 937 614 L 965 614" style="fill: none; stroke: #2ca02c; stroke-width: 2.083333; stroke-linecap: square"/>
</g>
<g id="text_58">
<text x="987.250 1005.250 1022.250 1045.000 1062.000 1073.000" y="623.666" style="font-size:27.78px;font-family:'DejaVu Sans',sans-serif">Reward</text>
</g>
<g id="line2d_74">
<path d="M 909 656 L 937 656 L 965 656" style="fill: none; stroke: #d62728; stroke-width: 2.083333; stroke-linecap: square"/>
</g>
<g id="text_59">
<text x="987.125 1004.750 1020.000 1036.875 1047.750" y="665.555" style="font-size:27.78px;font-family:'DejaVu Sans',sans-serif">Score</text>
</g>
<g id="line2d_75">
<path d="M 909 698 L 937 698 L 965 698" style="fill: none; stroke: #9467bd; stroke-width: 2.083333; stroke-linecap: square"/>
</g>
<g id="text_60">
<g transform="matrix(1 0 0 1 -0.4102 0)"><text x="986.500 1005.875 1027.625 1049.375 1066.125 1083.750 1101.875 1118.750 1135.625 1143.875 1165.625" y="707.444" style="font-size:27.78px;font-family:'DejaVu Sans',sans-serif">COOPERATION</text></g>
</g>
<g id="line2d_76">
<path d="M 909 740 L 937 740 L 965 740" style="fill: none; stroke: #8c564b; stroke-width: 2.083333; stroke-linecap: square"/>
</g>
<g id="text_61">
<text x="987.250 1003.250 1025.000 1046.750" y="749.333" style="font-size:27.78px;font-family:'DejaVu Sans',sans-serif">FOOD</text>
</g>
<g id="line2d_77">
<path d="M 909 781 L 937 781 L 965 781" style="fill: none; stroke: #e377c2; stroke-width: 2.083333; stroke-linecap: square"/>
</g>
<g id="text_62">
<g transform="matrix(1 0 0 1 -0.5126 0)"><text x="987.250 1003.250 1025.000 1046.750 1068.125 1082.000 1103.375 1121.000 1137.000 1145.250 1164.625 1172.875 1190.500 1211.250 1230.125" y="791.222" style="font-size:27.78px;font-family:'DejaVu Sans',sans-serif">FOOD_DEFICIENCY</text></g>
</g>
<g id="line2d_78">
<path d="M 909 824 L 937 824 L 965 824" style="fill: none; stroke: #7f7f7f; stroke-width: 2.083333; stroke-linecap: square"/>
</g>
<g id="text_63">
<g transform="matrix(1 0 0 1 -0.6258 0)"><text x="987.250 1011.250 1032.500 1051.500 1069.125 1093.125 1110.750 1131.500" y="834.110" style="font-size:27.78px;font-family:'DejaVu Sans',sans-serif">MOVEMENT</text></g>
</g>
</g>
</g>
</g>
<defs>
<clipPath id="pbbe78c1bc1">
<rect x="152.139556" y="149.255569" width="1119.526444" height="90.484505"/>
</clipPath>
<clipPath id="p567b58b1b1">
<rect x="152.139556" y="774.625939" width="1119.526444" height="90.484505"/>
</clipPath>
</defs>
</svg>

</body></html>
